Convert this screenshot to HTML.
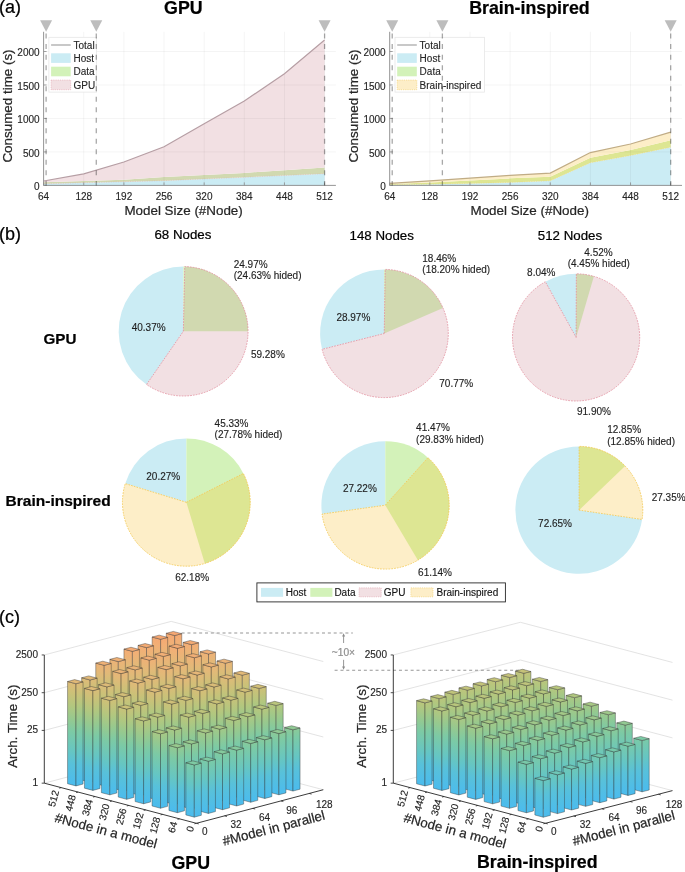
<!DOCTYPE html>
<html><head><meta charset="utf-8"><style>
html,body{margin:0;padding:0;background:#fff;}
svg{display:block;font-family:"Liberation Sans", sans-serif;will-change:transform;opacity:0.999;}
text{stroke:currentColor;stroke-width:0.22px;}
text[font-size="10"]{stroke-width:0.14px;}
</style></head><body>
<svg width="685" height="872" viewBox="0 0 685 872">
<defs><linearGradient id="gL0" gradientUnits="userSpaceOnUse" x1="0" y1="0" x2="31.631" y2="-119.857"><stop offset="0.00" stop-color="#4cbcec"/><stop offset="0.15" stop-color="#58c1da"/><stop offset="0.25" stop-color="#66c6c2"/><stop offset="0.40" stop-color="#7ccaa5"/><stop offset="0.50" stop-color="#96c98f"/><stop offset="0.60" stop-color="#b2c77f"/><stop offset="0.70" stop-color="#cbc178"/><stop offset="0.80" stop-color="#e2b978"/><stop offset="0.90" stop-color="#f2af76"/><stop offset="1.00" stop-color="#f8a370"/></linearGradient><linearGradient id="gR0" gradientUnits="userSpaceOnUse" x1="0" y1="0" x2="-31.697" y2="-119.819"><stop offset="0.00" stop-color="#4cbcec"/><stop offset="0.15" stop-color="#58c1da"/><stop offset="0.25" stop-color="#66c6c2"/><stop offset="0.40" stop-color="#7ccaa5"/><stop offset="0.50" stop-color="#96c98f"/><stop offset="0.60" stop-color="#b2c77f"/><stop offset="0.70" stop-color="#cbc178"/><stop offset="0.80" stop-color="#e2b978"/><stop offset="0.90" stop-color="#f2af76"/><stop offset="1.00" stop-color="#f8a370"/></linearGradient><linearGradient id="gL1" gradientUnits="userSpaceOnUse" x1="0" y1="0" x2="31.631" y2="-119.857"><stop offset="0.00" stop-color="#4cbcec"/><stop offset="0.15" stop-color="#58c1da"/><stop offset="0.25" stop-color="#66c6c2"/><stop offset="0.40" stop-color="#7ccaa5"/><stop offset="0.50" stop-color="#96c98f"/><stop offset="0.60" stop-color="#b2c77f"/><stop offset="0.70" stop-color="#cbc178"/><stop offset="0.80" stop-color="#e2b978"/><stop offset="0.90" stop-color="#f2af76"/><stop offset="1.00" stop-color="#f8a370"/></linearGradient><linearGradient id="gR1" gradientUnits="userSpaceOnUse" x1="0" y1="0" x2="-30.916" y2="-120.256"><stop offset="0.00" stop-color="#4cbcec"/><stop offset="0.15" stop-color="#58c1da"/><stop offset="0.25" stop-color="#66c6c2"/><stop offset="0.40" stop-color="#7ccaa5"/><stop offset="0.50" stop-color="#96c98f"/><stop offset="0.60" stop-color="#b2c77f"/><stop offset="0.70" stop-color="#cbc178"/><stop offset="0.80" stop-color="#e2b978"/><stop offset="0.90" stop-color="#f2af76"/><stop offset="1.00" stop-color="#f8a370"/></linearGradient></defs>
<rect width="685" height="872" fill="#fff"/>
<text x="-1.0" y="13.3" font-size="18" fill="#000" color="#000">(a)</text>
<path d="M43.60,183.86 L83.74,182.72 L123.88,181.72 L164.02,180.65 L204.16,178.91 L244.30,177.30 L284.44,175.49 L324.58,173.68 L324.58,185.40 L284.44,185.40 L244.30,185.40 L204.16,185.40 L164.02,185.40 L123.88,185.40 L83.74,185.40 L43.60,185.40Z" fill="#cbecf4" stroke="none"/>
<path d="M43.60,182.32 L83.74,181.12 L123.88,179.71 L164.02,177.03 L204.16,175.02 L244.30,172.88 L284.44,170.14 L324.58,167.59 L324.58,173.68 L284.44,175.49 L244.30,177.30 L204.16,178.91 L164.02,180.65 L123.88,181.72 L83.74,182.72 L43.60,183.86Z" fill="#d1d9b0" stroke="none"/>
<path d="M43.60,180.98 L83.74,173.88 L123.88,161.97 L164.02,146.70 L204.16,123.81 L244.30,101.04 L284.44,73.79 L324.58,40.05 L324.58,167.59 L284.44,170.14 L244.30,172.88 L204.16,175.02 L164.02,177.03 L123.88,179.71 L83.74,181.12 L43.60,182.32Z" fill="#f2e0e3" stroke="none"/>
<g stroke="#000" stroke-opacity="0.055" stroke-width="0.8">
<line x1="43.60" y1="31.80" x2="43.60" y2="185.40"/>
<line x1="83.74" y1="31.80" x2="83.74" y2="185.40"/>
<line x1="123.88" y1="31.80" x2="123.88" y2="185.40"/>
<line x1="164.02" y1="31.80" x2="164.02" y2="185.40"/>
<line x1="204.16" y1="31.80" x2="204.16" y2="185.40"/>
<line x1="244.30" y1="31.80" x2="244.30" y2="185.40"/>
<line x1="284.44" y1="31.80" x2="284.44" y2="185.40"/>
<line x1="324.58" y1="31.80" x2="324.58" y2="185.40"/>
<line x1="43.60" y1="151.93" x2="335.90" y2="151.93"/>
<line x1="43.60" y1="118.45" x2="335.90" y2="118.45"/>
<line x1="43.60" y1="84.97" x2="335.90" y2="84.97"/>
<line x1="43.60" y1="51.50" x2="335.90" y2="51.50"/>
</g>
<path d="M43.60,183.86 L83.74,182.72 L123.88,181.72 L164.02,180.65 L204.16,178.91 L244.30,177.30 L284.44,175.49 L324.58,173.68" fill="none" stroke="#e3a3ae" stroke-width="0.5" stroke-dasharray="1.2,1.2" opacity="0.8"/>
<path d="M43.60,180.98 L83.74,173.88 L123.88,161.97 L164.02,146.70 L204.16,123.81 L244.30,101.04 L284.44,73.79 L324.58,40.05" fill="none" stroke="#b69ea4" stroke-width="1.2"/>
<path d="M40.11,20.3 L52.11,20.3 L46.11,31.8 Z" fill="#bdbdbd"/>
<path d="M90.28,20.3 L102.28,20.3 L96.28,31.8 Z" fill="#bdbdbd"/>
<path d="M318.58,20.3 L330.58,20.3 L324.58,31.8 Z" fill="#bdbdbd"/>
<line x1="43.60" y1="31.80" x2="43.60" y2="185.40" stroke="#8a8a8a" stroke-width="0.9"/>
<line x1="43.60" y1="185.40" x2="335.90" y2="185.40" stroke="#8a8a8a" stroke-width="0.9"/>
<line x1="43.60" y1="185.40" x2="43.60" y2="182.40" stroke="#8a8a8a" stroke-width="0.8"/>
<text x="43.60" y="200.20" font-size="10" text-anchor="middle" font-weight="normal" fill="#262626" color="#262626" >64</text>
<line x1="83.74" y1="185.40" x2="83.74" y2="182.40" stroke="#8a8a8a" stroke-width="0.8"/>
<text x="83.74" y="200.20" font-size="10" text-anchor="middle" font-weight="normal" fill="#262626" color="#262626" >128</text>
<line x1="123.88" y1="185.40" x2="123.88" y2="182.40" stroke="#8a8a8a" stroke-width="0.8"/>
<text x="123.88" y="200.20" font-size="10" text-anchor="middle" font-weight="normal" fill="#262626" color="#262626" >192</text>
<line x1="164.02" y1="185.40" x2="164.02" y2="182.40" stroke="#8a8a8a" stroke-width="0.8"/>
<text x="164.02" y="200.20" font-size="10" text-anchor="middle" font-weight="normal" fill="#262626" color="#262626" >256</text>
<line x1="204.16" y1="185.40" x2="204.16" y2="182.40" stroke="#8a8a8a" stroke-width="0.8"/>
<text x="204.16" y="200.20" font-size="10" text-anchor="middle" font-weight="normal" fill="#262626" color="#262626" >320</text>
<line x1="244.30" y1="185.40" x2="244.30" y2="182.40" stroke="#8a8a8a" stroke-width="0.8"/>
<text x="244.30" y="200.20" font-size="10" text-anchor="middle" font-weight="normal" fill="#262626" color="#262626" >384</text>
<line x1="284.44" y1="185.40" x2="284.44" y2="182.40" stroke="#8a8a8a" stroke-width="0.8"/>
<text x="284.44" y="200.20" font-size="10" text-anchor="middle" font-weight="normal" fill="#262626" color="#262626" >448</text>
<line x1="324.58" y1="185.40" x2="324.58" y2="182.40" stroke="#8a8a8a" stroke-width="0.8"/>
<text x="324.58" y="200.20" font-size="10" text-anchor="middle" font-weight="normal" fill="#262626" color="#262626" >512</text>
<line x1="43.60" y1="185.40" x2="46.60" y2="185.40" stroke="#8a8a8a" stroke-width="0.8"/>
<text x="39.60" y="190.00" font-size="10" text-anchor="end" font-weight="normal" fill="#262626" color="#262626" >0</text>
<line x1="43.60" y1="151.93" x2="46.60" y2="151.93" stroke="#8a8a8a" stroke-width="0.8"/>
<text x="39.60" y="156.53" font-size="10" text-anchor="end" font-weight="normal" fill="#262626" color="#262626" >500</text>
<line x1="43.60" y1="118.45" x2="46.60" y2="118.45" stroke="#8a8a8a" stroke-width="0.8"/>
<text x="39.60" y="123.05" font-size="10" text-anchor="end" font-weight="normal" fill="#262626" color="#262626" >1000</text>
<line x1="43.60" y1="84.97" x2="46.60" y2="84.97" stroke="#8a8a8a" stroke-width="0.8"/>
<text x="39.60" y="89.57" font-size="10" text-anchor="end" font-weight="normal" fill="#262626" color="#262626" >1500</text>
<line x1="43.60" y1="51.50" x2="46.60" y2="51.50" stroke="#8a8a8a" stroke-width="0.8"/>
<text x="39.60" y="56.10" font-size="10" text-anchor="end" font-weight="normal" fill="#262626" color="#262626" >2000</text>
<text x="183.60" y="214.80" font-size="13.4" text-anchor="middle" font-weight="normal" fill="#262626" color="#262626" >Model Size (#Node)</text>
<text transform="translate(11.80,106.00) rotate(-90)" font-size="13.4" text-anchor="middle" fill="#262626" color="#262626">Consumed time (s)</text>
<text x="183.35" y="14.40" font-size="17.8" text-anchor="middle" font-weight="bold" fill="#000" color="#000" >GPU</text>
<rect x="48.90" y="37.30" width="47.70" height="54.8" fill="#fff" stroke="#e6e6e6" stroke-width="0.8"/>
<line x1="51.10" y1="45" x2="70.70" y2="45" stroke="#aaaaaa" stroke-width="1.3"/>
<text x="73.50" y="48.90" font-size="10" text-anchor="start" font-weight="normal" fill="#262626" color="#262626" >Total</text>
<rect x="51.10" y="53.30" width="19.6" height="9.6" fill="#cbecf4"/>
<text x="73.50" y="61.90" font-size="10" text-anchor="start" font-weight="normal" fill="#262626" color="#262626" >Host</text>
<rect x="51.10" y="66.70" width="19.6" height="9.6" fill="#d3f2b9"/>
<text x="73.50" y="75.30" font-size="10" text-anchor="start" font-weight="normal" fill="#262626" color="#262626" >Data</text>
<rect x="51.10" y="80.10" width="19.6" height="9.6" fill="#f2e0e3" stroke="#e3a3ae" stroke-width="0.6" stroke-dasharray="1.2,1"/>
<text x="73.50" y="88.70" font-size="10" text-anchor="start" font-weight="normal" fill="#262626" color="#262626" >GPU</text>
<line x1="46.11" y1="31.80" x2="46.11" y2="185.40" stroke="#000" stroke-opacity="0.34" stroke-width="1.3" stroke-dasharray="5.0,5.52" stroke-dashoffset="-1.8"/>
<line x1="96.28" y1="31.80" x2="96.28" y2="185.40" stroke="#000" stroke-opacity="0.34" stroke-width="1.3" stroke-dasharray="5.0,5.52" stroke-dashoffset="-1.8"/>
<line x1="324.58" y1="31.80" x2="324.58" y2="185.40" stroke="#000" stroke-opacity="0.34" stroke-width="1.3" stroke-dasharray="5.0,5.52" stroke-dashoffset="-1.8"/>
<path d="M389.70,184.86 L429.84,184.19 L469.98,183.39 L510.12,182.39 L550.26,180.78 L590.40,162.77 L630.54,155.47 L670.68,147.24 L670.68,185.40 L630.54,185.40 L590.40,185.40 L550.26,185.40 L510.12,185.40 L469.98,185.40 L429.84,185.40 L389.70,185.40Z" fill="#cbecf4" stroke="none"/>
<path d="M389.70,184.06 L429.84,182.39 L469.98,180.38 L510.12,178.37 L550.26,176.70 L590.40,157.68 L630.54,149.92 L670.68,140.21 L670.68,147.24 L630.54,155.47 L590.40,162.77 L550.26,180.78 L510.12,182.39 L469.98,183.39 L429.84,184.19 L389.70,184.86Z" fill="#dde693" stroke="none"/>
<path d="M389.70,183.39 L429.84,180.85 L469.98,178.17 L510.12,175.36 L550.26,173.08 L590.40,152.59 L630.54,144.02 L670.68,132.17 L670.68,140.21 L630.54,149.92 L590.40,157.68 L550.26,176.70 L510.12,178.37 L469.98,180.38 L429.84,182.39 L389.70,184.06Z" fill="#fdeec8" stroke="none"/>
<g stroke="#000" stroke-opacity="0.055" stroke-width="0.8">
<line x1="389.70" y1="31.80" x2="389.70" y2="185.40"/>
<line x1="429.84" y1="31.80" x2="429.84" y2="185.40"/>
<line x1="469.98" y1="31.80" x2="469.98" y2="185.40"/>
<line x1="510.12" y1="31.80" x2="510.12" y2="185.40"/>
<line x1="550.26" y1="31.80" x2="550.26" y2="185.40"/>
<line x1="590.40" y1="31.80" x2="590.40" y2="185.40"/>
<line x1="630.54" y1="31.80" x2="630.54" y2="185.40"/>
<line x1="670.68" y1="31.80" x2="670.68" y2="185.40"/>
<line x1="389.70" y1="151.93" x2="682.00" y2="151.93"/>
<line x1="389.70" y1="118.45" x2="682.00" y2="118.45"/>
<line x1="389.70" y1="84.97" x2="682.00" y2="84.97"/>
<line x1="389.70" y1="51.50" x2="682.00" y2="51.50"/>
</g>
<path d="M389.70,184.86 L429.84,184.19 L469.98,183.39 L510.12,182.39 L550.26,180.78 L590.40,162.77 L630.54,155.47 L670.68,147.24" fill="none" stroke="#f3cf6a" stroke-width="0.5" stroke-dasharray="1.2,1.2" opacity="0.8"/>
<path d="M389.70,183.39 L429.84,180.85 L469.98,178.17 L510.12,175.36 L550.26,173.08 L590.40,152.59 L630.54,144.02 L670.68,132.17" fill="none" stroke="#c0ac85" stroke-width="1.2"/>
<path d="M386.21,20.3 L398.21,20.3 L392.21,31.8 Z" fill="#bdbdbd"/>
<path d="M436.38,20.3 L448.38,20.3 L442.38,31.8 Z" fill="#bdbdbd"/>
<path d="M664.68,20.3 L676.68,20.3 L670.68,31.8 Z" fill="#bdbdbd"/>
<line x1="389.70" y1="31.80" x2="389.70" y2="185.40" stroke="#8a8a8a" stroke-width="0.9"/>
<line x1="389.70" y1="185.40" x2="682.00" y2="185.40" stroke="#8a8a8a" stroke-width="0.9"/>
<line x1="389.70" y1="185.40" x2="389.70" y2="182.40" stroke="#8a8a8a" stroke-width="0.8"/>
<text x="389.70" y="200.20" font-size="10" text-anchor="middle" font-weight="normal" fill="#262626" color="#262626" >64</text>
<line x1="429.84" y1="185.40" x2="429.84" y2="182.40" stroke="#8a8a8a" stroke-width="0.8"/>
<text x="429.84" y="200.20" font-size="10" text-anchor="middle" font-weight="normal" fill="#262626" color="#262626" >128</text>
<line x1="469.98" y1="185.40" x2="469.98" y2="182.40" stroke="#8a8a8a" stroke-width="0.8"/>
<text x="469.98" y="200.20" font-size="10" text-anchor="middle" font-weight="normal" fill="#262626" color="#262626" >192</text>
<line x1="510.12" y1="185.40" x2="510.12" y2="182.40" stroke="#8a8a8a" stroke-width="0.8"/>
<text x="510.12" y="200.20" font-size="10" text-anchor="middle" font-weight="normal" fill="#262626" color="#262626" >256</text>
<line x1="550.26" y1="185.40" x2="550.26" y2="182.40" stroke="#8a8a8a" stroke-width="0.8"/>
<text x="550.26" y="200.20" font-size="10" text-anchor="middle" font-weight="normal" fill="#262626" color="#262626" >320</text>
<line x1="590.40" y1="185.40" x2="590.40" y2="182.40" stroke="#8a8a8a" stroke-width="0.8"/>
<text x="590.40" y="200.20" font-size="10" text-anchor="middle" font-weight="normal" fill="#262626" color="#262626" >384</text>
<line x1="630.54" y1="185.40" x2="630.54" y2="182.40" stroke="#8a8a8a" stroke-width="0.8"/>
<text x="630.54" y="200.20" font-size="10" text-anchor="middle" font-weight="normal" fill="#262626" color="#262626" >448</text>
<line x1="670.68" y1="185.40" x2="670.68" y2="182.40" stroke="#8a8a8a" stroke-width="0.8"/>
<text x="670.68" y="200.20" font-size="10" text-anchor="middle" font-weight="normal" fill="#262626" color="#262626" >512</text>
<line x1="389.70" y1="185.40" x2="392.70" y2="185.40" stroke="#8a8a8a" stroke-width="0.8"/>
<text x="385.70" y="190.00" font-size="10" text-anchor="end" font-weight="normal" fill="#262626" color="#262626" >0</text>
<line x1="389.70" y1="151.93" x2="392.70" y2="151.93" stroke="#8a8a8a" stroke-width="0.8"/>
<text x="385.70" y="156.53" font-size="10" text-anchor="end" font-weight="normal" fill="#262626" color="#262626" >500</text>
<line x1="389.70" y1="118.45" x2="392.70" y2="118.45" stroke="#8a8a8a" stroke-width="0.8"/>
<text x="385.70" y="123.05" font-size="10" text-anchor="end" font-weight="normal" fill="#262626" color="#262626" >1000</text>
<line x1="389.70" y1="84.97" x2="392.70" y2="84.97" stroke="#8a8a8a" stroke-width="0.8"/>
<text x="385.70" y="89.57" font-size="10" text-anchor="end" font-weight="normal" fill="#262626" color="#262626" >1500</text>
<line x1="389.70" y1="51.50" x2="392.70" y2="51.50" stroke="#8a8a8a" stroke-width="0.8"/>
<text x="385.70" y="56.10" font-size="10" text-anchor="end" font-weight="normal" fill="#262626" color="#262626" >2000</text>
<text x="529.70" y="214.80" font-size="13.4" text-anchor="middle" font-weight="normal" fill="#262626" color="#262626" >Model Size (#Node)</text>
<text transform="translate(357.90,106.00) rotate(-90)" font-size="13.4" text-anchor="middle" fill="#262626" color="#262626">Consumed time (s)</text>
<text x="529.45" y="14.40" font-size="17.8" text-anchor="middle" font-weight="bold" fill="#000" color="#000" >Brain-inspired</text>
<rect x="395.00" y="37.30" width="89.40" height="54.8" fill="#fff" stroke="#e6e6e6" stroke-width="0.8"/>
<line x1="397.20" y1="45" x2="416.80" y2="45" stroke="#aaaaaa" stroke-width="1.3"/>
<text x="419.60" y="48.90" font-size="10" text-anchor="start" font-weight="normal" fill="#262626" color="#262626" >Total</text>
<rect x="397.20" y="53.30" width="19.6" height="9.6" fill="#cbecf4"/>
<text x="419.60" y="61.90" font-size="10" text-anchor="start" font-weight="normal" fill="#262626" color="#262626" >Host</text>
<rect x="397.20" y="66.70" width="19.6" height="9.6" fill="#d3f2b9"/>
<text x="419.60" y="75.30" font-size="10" text-anchor="start" font-weight="normal" fill="#262626" color="#262626" >Data</text>
<rect x="397.20" y="80.10" width="19.6" height="9.6" fill="#fdeec8" stroke="#f3cf6a" stroke-width="0.6" stroke-dasharray="1.2,1"/>
<text x="419.60" y="88.70" font-size="10" text-anchor="start" font-weight="normal" fill="#262626" color="#262626" >Brain-inspired</text>
<line x1="392.21" y1="31.80" x2="392.21" y2="185.40" stroke="#000" stroke-opacity="0.34" stroke-width="1.3" stroke-dasharray="5.0,5.52" stroke-dashoffset="-1.8"/>
<line x1="442.38" y1="31.80" x2="442.38" y2="185.40" stroke="#000" stroke-opacity="0.34" stroke-width="1.3" stroke-dasharray="5.0,5.52" stroke-dashoffset="-1.8"/>
<line x1="670.68" y1="31.80" x2="670.68" y2="185.40" stroke="#000" stroke-opacity="0.34" stroke-width="1.3" stroke-dasharray="5.0,5.52" stroke-dashoffset="-1.8"/>
<text x="-1.0" y="240.3" font-size="18" fill="#000" color="#000">(b)</text>
<path d="M183.35,331.30 L146.55,384.51 A64.7,64.7 0 0 1 183.35,266.60 Z" fill="#cbecf4"/>
<path d="M183.35,331.30 L184.77,266.62 A64.7,64.7 0 1 1 146.55,384.51 Z" fill="#f2e0e3"/>
<path d="M183.35,331.30 L183.35,266.60 A64.7,64.7 0 0 1 184.77,266.62 Z" fill="#d3f2b9"/>
<path d="M183.35,331.30 L184.77,266.62 A64.7,64.7 0 0 1 248.05,331.18 Z" fill="#d1d9b0"/>
<path d="M183.35,331.30 L184.77,266.62 A64.7,64.7 0 1 1 146.55,384.51 Z" fill="none" stroke="#e08898" stroke-width="0.75" stroke-dasharray="1.7,1.1"/>
<path d="M384.20,333.50 L322.08,349.32 A64.1,64.1 0 0 1 384.20,269.40 Z" fill="#cbecf4"/>
<path d="M384.20,333.50 L385.25,269.41 A64.1,64.1 0 1 1 322.08,349.32 Z" fill="#f2e0e3"/>
<path d="M384.20,333.50 L384.20,269.40 A64.1,64.1 0 0 1 385.25,269.41 Z" fill="#d3f2b9"/>
<path d="M384.20,333.50 L385.25,269.41 A64.1,64.1 0 0 1 442.96,307.90 Z" fill="#d1d9b0"/>
<path d="M384.20,333.50 L385.25,269.41 A64.1,64.1 0 1 1 322.08,349.32 Z" fill="none" stroke="#e08898" stroke-width="0.75" stroke-dasharray="1.7,1.1"/>
<path d="M576.10,337.40 L545.32,281.74 A63.6,63.6 0 0 1 576.10,273.80 Z" fill="#cbecf4"/>
<path d="M576.10,337.40 L576.34,273.80 A63.6,63.6 0 1 1 545.32,281.74 Z" fill="#f2e0e3"/>
<path d="M576.10,337.40 L576.10,273.80 A63.6,63.6 0 0 1 576.34,273.80 Z" fill="#d3f2b9"/>
<path d="M576.10,337.40 L576.34,273.80 A63.6,63.6 0 0 1 593.92,276.35 Z" fill="#d1d9b0"/>
<path d="M576.10,337.40 L576.34,273.80 A63.6,63.6 0 1 1 545.32,281.74 Z" fill="none" stroke="#e08898" stroke-width="0.75" stroke-dasharray="1.7,1.1"/>
<path d="M186.35,502.30 L125.25,483.59 A63.9,63.9 0 0 1 186.35,438.40 Z" fill="#cbecf4"/>
<path d="M186.35,502.30 L243.38,473.47 A63.9,63.9 0 1 1 125.25,483.59 Z" fill="#fdeec8"/>
<path d="M186.35,502.30 L186.35,438.40 A63.9,63.9 0 0 1 243.38,473.47 Z" fill="#d3f2b9"/>
<path d="M186.35,502.30 L243.38,473.47 A63.9,63.9 0 0 1 204.83,563.47 Z" fill="#dde693"/>
<path d="M186.35,502.30 L243.38,473.47 A63.9,63.9 0 1 1 125.25,483.59 Z" fill="none" stroke="#f2c445" stroke-width="0.75" stroke-dasharray="1.7,1.1"/>
<path d="M385.30,505.20 L322.02,514.08 A63.9,63.9 0 0 1 385.30,441.30 Z" fill="#cbecf4"/>
<path d="M385.30,505.20 L427.98,457.64 A63.9,63.9 0 1 1 322.02,514.08 Z" fill="#fdeec8"/>
<path d="M385.30,505.20 L385.30,441.30 A63.9,63.9 0 0 1 427.98,457.64 Z" fill="#d3f2b9"/>
<path d="M385.30,505.20 L427.98,457.64 A63.9,63.9 0 0 1 417.93,560.14 Z" fill="#dde693"/>
<path d="M385.30,505.20 L427.98,457.64 A63.9,63.9 0 1 1 322.02,514.08 Z" fill="none" stroke="#f2c445" stroke-width="0.75" stroke-dasharray="1.7,1.1"/>
<path d="M579.10,510.10 L642.11,519.47 A63.7,63.7 0 1 1 579.10,446.40 Z" fill="#cbecf4"/>
<path d="M579.10,510.10 L579.10,446.40 A63.7,63.7 0 0 1 642.11,519.47 Z" fill="#fdeec8"/>
<path d="M579.10,510.10 L579.10,446.40 A63.7,63.7 0 0 1 625.12,466.06 Z" fill="#dde693"/>
<path d="M579.10,510.10 L579.10,446.40 A63.7,63.7 0 0 1 642.11,519.47 Z" fill="none" stroke="#f2c445" stroke-width="0.75" stroke-dasharray="1.7,1.1"/>
<text x="182.90" y="239.30" font-size="13.3" text-anchor="middle" font-weight="normal" fill="#000" color="#000" >68 Nodes</text>
<text x="381.70" y="239.50" font-size="13.3" text-anchor="middle" font-weight="normal" fill="#000" color="#000" >148 Nodes</text>
<text x="570.00" y="239.50" font-size="13.3" text-anchor="middle" font-weight="normal" fill="#000" color="#000" >512 Nodes</text>
<text x="59.90" y="343.90" font-size="15.2" text-anchor="middle" font-weight="bold" fill="#000" color="#000" >GPU</text>
<text x="58.15" y="505.90" font-size="15.5" text-anchor="middle" font-weight="bold" fill="#000" color="#000" >Brain-inspired</text>
<text x="233.70" y="267.60" font-size="10" text-anchor="start" font-weight="normal" fill="#1f1f1f" color="#1f1f1f" >24.97%</text>
<text x="233.70" y="279.30" font-size="10" text-anchor="start" font-weight="normal" fill="#1f1f1f" color="#1f1f1f" >(24.63% hided)</text>
<text x="131.70" y="330.60" font-size="10" text-anchor="start" font-weight="normal" fill="#1f1f1f" color="#1f1f1f" >40.37%</text>
<text x="250.90" y="357.50" font-size="10" text-anchor="start" font-weight="normal" fill="#1f1f1f" color="#1f1f1f" >59.28%</text>
<text x="422.30" y="261.50" font-size="10" text-anchor="start" font-weight="normal" fill="#1f1f1f" color="#1f1f1f" >18.46%</text>
<text x="422.30" y="272.60" font-size="10" text-anchor="start" font-weight="normal" fill="#1f1f1f" color="#1f1f1f" >(18.20% hided)</text>
<text x="336.40" y="321.10" font-size="10" text-anchor="start" font-weight="normal" fill="#1f1f1f" color="#1f1f1f" >28.97%</text>
<text x="439.30" y="386.90" font-size="10" text-anchor="start" font-weight="normal" fill="#1f1f1f" color="#1f1f1f" >70.77%</text>
<text x="598.50" y="255.60" font-size="10" text-anchor="middle" font-weight="normal" fill="#1f1f1f" color="#1f1f1f" >4.52%</text>
<text x="598.80" y="267.40" font-size="10" text-anchor="middle" font-weight="normal" fill="#1f1f1f" color="#1f1f1f" >(4.45% hided)</text>
<text x="527.10" y="275.70" font-size="10" text-anchor="start" font-weight="normal" fill="#1f1f1f" color="#1f1f1f" >8.04%</text>
<text x="577.00" y="415.10" font-size="10" text-anchor="start" font-weight="normal" fill="#1f1f1f" color="#1f1f1f" >91.90%</text>
<text x="214.60" y="426.50" font-size="10" text-anchor="start" font-weight="normal" fill="#1f1f1f" color="#1f1f1f" >45.33%</text>
<text x="214.60" y="438.30" font-size="10" text-anchor="start" font-weight="normal" fill="#1f1f1f" color="#1f1f1f" >(27.78% hided)</text>
<text x="146.30" y="480.30" font-size="10" text-anchor="start" font-weight="normal" fill="#1f1f1f" color="#1f1f1f" >20.27%</text>
<text x="175.20" y="581.40" font-size="10" text-anchor="start" font-weight="normal" fill="#1f1f1f" color="#1f1f1f" >62.18%</text>
<text x="416.10" y="431.10" font-size="10" text-anchor="start" font-weight="normal" fill="#1f1f1f" color="#1f1f1f" >41.47%</text>
<text x="416.10" y="442.50" font-size="10" text-anchor="start" font-weight="normal" fill="#1f1f1f" color="#1f1f1f" >(29.83% hided)</text>
<text x="342.90" y="491.90" font-size="10" text-anchor="start" font-weight="normal" fill="#1f1f1f" color="#1f1f1f" >27.22%</text>
<text x="418.10" y="576.20" font-size="10" text-anchor="start" font-weight="normal" fill="#1f1f1f" color="#1f1f1f" >61.14%</text>
<text x="607.20" y="433.30" font-size="10" text-anchor="start" font-weight="normal" fill="#1f1f1f" color="#1f1f1f" >12.85%</text>
<text x="607.20" y="444.60" font-size="10" text-anchor="start" font-weight="normal" fill="#1f1f1f" color="#1f1f1f" >(12.85% hided)</text>
<text x="651.70" y="500.50" font-size="10" text-anchor="start" font-weight="normal" fill="#1f1f1f" color="#1f1f1f" >27.35%</text>
<text x="538.10" y="527.00" font-size="10" text-anchor="start" font-weight="normal" fill="#1f1f1f" color="#1f1f1f" >72.65%</text>
<rect x="256.9" y="582.9" width="248.5" height="19" fill="#fff" stroke="#262626" stroke-width="0.9"/>
<rect x="261.0" y="587.9" width="22.1" height="8.9" fill="#cbecf4"/>
<text x="285.70" y="595.90" font-size="10" text-anchor="start" font-weight="normal" fill="#141414" color="#141414" >Host</text>
<rect x="310.3" y="587.9" width="22.1" height="8.9" fill="#d3f2b9"/>
<text x="334.40" y="595.90" font-size="10" text-anchor="start" font-weight="normal" fill="#141414" color="#141414" >Data</text>
<rect x="359.1" y="587.9" width="22.1" height="8.9" fill="#f2e0e3" stroke="#e3a3ae" stroke-width="0.6" stroke-dasharray="1.2,1"/>
<text x="383.80" y="595.90" font-size="10" text-anchor="start" font-weight="normal" fill="#141414" color="#141414" >GPU</text>
<rect x="410.9" y="587.9" width="22.1" height="8.9" fill="#fdeec8" stroke="#f3cf6a" stroke-width="0.6" stroke-dasharray="1.2,1"/>
<text x="436.50" y="595.90" font-size="10" text-anchor="start" font-weight="normal" fill="#141414" color="#141414" >Brain-inspired</text>
<text x="-1.0" y="622.6" font-size="18" fill="#000" color="#000">(c)</text>
<path d="M44.30,783.16 L171.20,749.59 L323.30,789.73" fill="none" stroke="#dcdcdc" stroke-width="0.8"/>
<path d="M44.30,730.42 L171.20,696.85 L323.30,736.99" fill="none" stroke="#dcdcdc" stroke-width="0.8"/>
<path d="M44.30,692.69 L171.20,659.12 L323.30,699.26" fill="none" stroke="#dcdcdc" stroke-width="0.8"/>
<path d="M44.30,654.96 L171.20,621.39 L323.30,661.53" fill="none" stroke="#dcdcdc" stroke-width="0.8"/>
<path d="M393.30,783.16 L520.38,750.49 L672.48,790.63" fill="none" stroke="#dcdcdc" stroke-width="0.8"/>
<path d="M393.30,730.42 L520.38,697.75 L672.48,737.89" fill="none" stroke="#dcdcdc" stroke-width="0.8"/>
<path d="M393.30,692.69 L520.38,660.02 L672.48,700.16" fill="none" stroke="#dcdcdc" stroke-width="0.8"/>
<path d="M393.30,654.96 L520.38,622.29 L672.48,662.43" fill="none" stroke="#dcdcdc" stroke-width="0.8"/>
<line x1="181.6" y1="632.9" x2="352.8" y2="632.9" stroke="#969696" stroke-width="1.05" stroke-dasharray="3.0,2.85"/>
<line x1="334.6" y1="670.3" x2="526" y2="670.3" stroke="#969696" stroke-width="1.05" stroke-dasharray="3.0,2.85"/>
<g transform="translate(174.00,757.78)">
<path d="M0.70,2.05 L-7.75,-0.18 L-7.75,-124.49 L0.70,-122.26Z" fill="url(#gL0)" stroke="#333" stroke-width="0.5" stroke-opacity="0.8" stroke-linejoin="round"/>
<path d="M0.70,2.05 L7.75,0.18 L7.75,-124.13 L0.70,-122.26Z" fill="url(#gR0)" stroke="#333" stroke-width="0.5" stroke-opacity="0.8" stroke-linejoin="round"/>
<path d="M0.70,-122.26 L-7.75,-124.49 L-0.70,-126.36 L7.75,-124.13Z" fill="#f6a772" stroke="#333" stroke-width="0.5" stroke-opacity="0.8" stroke-linejoin="round"/>
</g>
<g transform="translate(190.90,762.24)">
<path d="M0.70,2.05 L-7.75,-0.18 L-7.75,-119.86 L0.70,-117.63Z" fill="url(#gL0)" stroke="#333" stroke-width="0.5" stroke-opacity="0.8" stroke-linejoin="round"/>
<path d="M0.70,2.05 L7.75,0.18 L7.75,-119.50 L0.70,-117.63Z" fill="url(#gR0)" stroke="#333" stroke-width="0.5" stroke-opacity="0.8" stroke-linejoin="round"/>
<path d="M0.70,-117.63 L-7.75,-119.86 L-0.70,-121.73 L7.75,-119.50Z" fill="#f4ab74" stroke="#333" stroke-width="0.5" stroke-opacity="0.8" stroke-linejoin="round"/>
</g>
<g transform="translate(159.90,761.51)">
<path d="M0.70,2.05 L-7.75,-0.18 L-7.75,-124.49 L0.70,-122.26Z" fill="url(#gL0)" stroke="#333" stroke-width="0.5" stroke-opacity="0.8" stroke-linejoin="round"/>
<path d="M0.70,2.05 L7.75,0.18 L7.75,-124.13 L0.70,-122.26Z" fill="url(#gR0)" stroke="#333" stroke-width="0.5" stroke-opacity="0.8" stroke-linejoin="round"/>
<path d="M0.70,-122.26 L-7.75,-124.49 L-0.70,-126.36 L7.75,-124.13Z" fill="#f6a772" stroke="#333" stroke-width="0.5" stroke-opacity="0.8" stroke-linejoin="round"/>
</g>
<g transform="translate(207.80,766.70)">
<path d="M0.70,2.05 L-7.75,-0.18 L-7.75,-114.94 L0.70,-112.71Z" fill="url(#gL0)" stroke="#333" stroke-width="0.5" stroke-opacity="0.8" stroke-linejoin="round"/>
<path d="M0.70,2.05 L7.75,0.18 L7.75,-114.57 L0.70,-112.71Z" fill="url(#gR0)" stroke="#333" stroke-width="0.5" stroke-opacity="0.8" stroke-linejoin="round"/>
<path d="M0.70,-112.71 L-7.75,-114.94 L-0.70,-116.80 L7.75,-114.57Z" fill="#f1af76" stroke="#333" stroke-width="0.5" stroke-opacity="0.8" stroke-linejoin="round"/>
</g>
<g transform="translate(176.80,765.97)">
<path d="M0.70,2.05 L-7.75,-0.18 L-7.75,-119.86 L0.70,-117.63Z" fill="url(#gL0)" stroke="#333" stroke-width="0.5" stroke-opacity="0.8" stroke-linejoin="round"/>
<path d="M0.70,2.05 L7.75,0.18 L7.75,-119.50 L0.70,-117.63Z" fill="url(#gR0)" stroke="#333" stroke-width="0.5" stroke-opacity="0.8" stroke-linejoin="round"/>
<path d="M0.70,-117.63 L-7.75,-119.86 L-0.70,-121.73 L7.75,-119.50Z" fill="#f4ab74" stroke="#333" stroke-width="0.5" stroke-opacity="0.8" stroke-linejoin="round"/>
</g>
<g transform="translate(145.80,765.24)">
<path d="M0.70,2.05 L-7.75,-0.18 L-7.75,-119.85 L0.70,-117.62Z" fill="url(#gL0)" stroke="#333" stroke-width="0.5" stroke-opacity="0.8" stroke-linejoin="round"/>
<path d="M0.70,2.05 L7.75,0.18 L7.75,-119.48 L0.70,-117.62Z" fill="url(#gR0)" stroke="#333" stroke-width="0.5" stroke-opacity="0.8" stroke-linejoin="round"/>
<path d="M0.70,-117.62 L-7.75,-119.85 L-0.70,-121.71 L7.75,-119.48Z" fill="#f4ab74" stroke="#333" stroke-width="0.5" stroke-opacity="0.8" stroke-linejoin="round"/>
</g>
<g transform="translate(224.70,771.16)">
<path d="M0.70,2.05 L-7.75,-0.18 L-7.75,-110.15 L0.70,-107.92Z" fill="url(#gL0)" stroke="#333" stroke-width="0.5" stroke-opacity="0.8" stroke-linejoin="round"/>
<path d="M0.70,2.05 L7.75,0.18 L7.75,-109.79 L0.70,-107.92Z" fill="url(#gR0)" stroke="#333" stroke-width="0.5" stroke-opacity="0.8" stroke-linejoin="round"/>
<path d="M0.70,-107.92 L-7.75,-110.15 L-0.70,-112.02 L7.75,-109.79Z" fill="#ebb377" stroke="#333" stroke-width="0.5" stroke-opacity="0.8" stroke-linejoin="round"/>
</g>
<g transform="translate(193.70,770.43)">
<path d="M0.70,2.05 L-7.75,-0.18 L-7.75,-114.94 L0.70,-112.71Z" fill="url(#gL0)" stroke="#333" stroke-width="0.5" stroke-opacity="0.8" stroke-linejoin="round"/>
<path d="M0.70,2.05 L7.75,0.18 L7.75,-114.57 L0.70,-112.71Z" fill="url(#gR0)" stroke="#333" stroke-width="0.5" stroke-opacity="0.8" stroke-linejoin="round"/>
<path d="M0.70,-112.71 L-7.75,-114.94 L-0.70,-116.80 L7.75,-114.57Z" fill="#f1af76" stroke="#333" stroke-width="0.5" stroke-opacity="0.8" stroke-linejoin="round"/>
</g>
<g transform="translate(162.70,769.70)">
<path d="M0.70,2.05 L-7.75,-0.18 L-7.75,-115.49 L0.70,-113.26Z" fill="url(#gL0)" stroke="#333" stroke-width="0.5" stroke-opacity="0.8" stroke-linejoin="round"/>
<path d="M0.70,2.05 L7.75,0.18 L7.75,-115.12 L0.70,-113.26Z" fill="url(#gR0)" stroke="#333" stroke-width="0.5" stroke-opacity="0.8" stroke-linejoin="round"/>
<path d="M0.70,-113.26 L-7.75,-115.49 L-0.70,-117.35 L7.75,-115.12Z" fill="#f2af76" stroke="#333" stroke-width="0.5" stroke-opacity="0.8" stroke-linejoin="round"/>
</g>
<g transform="translate(131.70,768.97)">
<path d="M0.70,2.05 L-7.75,-0.18 L-7.75,-119.85 L0.70,-117.62Z" fill="url(#gL0)" stroke="#333" stroke-width="0.5" stroke-opacity="0.8" stroke-linejoin="round"/>
<path d="M0.70,2.05 L7.75,0.18 L7.75,-119.48 L0.70,-117.62Z" fill="url(#gR0)" stroke="#333" stroke-width="0.5" stroke-opacity="0.8" stroke-linejoin="round"/>
<path d="M0.70,-117.62 L-7.75,-119.85 L-0.70,-121.71 L7.75,-119.48Z" fill="#f4ab74" stroke="#333" stroke-width="0.5" stroke-opacity="0.8" stroke-linejoin="round"/>
</g>
<g transform="translate(241.60,775.62)">
<path d="M0.70,2.05 L-7.75,-0.18 L-7.75,-102.65 L0.70,-100.42Z" fill="url(#gL0)" stroke="#333" stroke-width="0.5" stroke-opacity="0.8" stroke-linejoin="round"/>
<path d="M0.70,2.05 L7.75,0.18 L7.75,-102.28 L0.70,-100.42Z" fill="url(#gR0)" stroke="#333" stroke-width="0.5" stroke-opacity="0.8" stroke-linejoin="round"/>
<path d="M0.70,-100.42 L-7.75,-102.65 L-0.70,-104.51 L7.75,-102.28Z" fill="#e2b978" stroke="#333" stroke-width="0.5" stroke-opacity="0.8" stroke-linejoin="round"/>
</g>
<g transform="translate(210.60,774.89)">
<path d="M0.70,2.05 L-7.75,-0.18 L-7.75,-110.15 L0.70,-107.92Z" fill="url(#gL0)" stroke="#333" stroke-width="0.5" stroke-opacity="0.8" stroke-linejoin="round"/>
<path d="M0.70,2.05 L7.75,0.18 L7.75,-109.79 L0.70,-107.92Z" fill="url(#gR0)" stroke="#333" stroke-width="0.5" stroke-opacity="0.8" stroke-linejoin="round"/>
<path d="M0.70,-107.92 L-7.75,-110.15 L-0.70,-112.02 L7.75,-109.79Z" fill="#ebb377" stroke="#333" stroke-width="0.5" stroke-opacity="0.8" stroke-linejoin="round"/>
</g>
<g transform="translate(179.60,774.16)">
<path d="M0.70,2.05 L-7.75,-0.18 L-7.75,-110.51 L0.70,-108.28Z" fill="url(#gL0)" stroke="#333" stroke-width="0.5" stroke-opacity="0.8" stroke-linejoin="round"/>
<path d="M0.70,2.05 L7.75,0.18 L7.75,-110.14 L0.70,-108.28Z" fill="url(#gR0)" stroke="#333" stroke-width="0.5" stroke-opacity="0.8" stroke-linejoin="round"/>
<path d="M0.70,-108.28 L-7.75,-110.51 L-0.70,-112.37 L7.75,-110.14Z" fill="#ecb377" stroke="#333" stroke-width="0.5" stroke-opacity="0.8" stroke-linejoin="round"/>
</g>
<g transform="translate(148.60,773.43)">
<path d="M0.70,2.05 L-7.75,-0.18 L-7.75,-115.49 L0.70,-113.26Z" fill="url(#gL0)" stroke="#333" stroke-width="0.5" stroke-opacity="0.8" stroke-linejoin="round"/>
<path d="M0.70,2.05 L7.75,0.18 L7.75,-115.12 L0.70,-113.26Z" fill="url(#gR0)" stroke="#333" stroke-width="0.5" stroke-opacity="0.8" stroke-linejoin="round"/>
<path d="M0.70,-113.26 L-7.75,-115.49 L-0.70,-117.35 L7.75,-115.12Z" fill="#f2af76" stroke="#333" stroke-width="0.5" stroke-opacity="0.8" stroke-linejoin="round"/>
</g>
<g transform="translate(117.60,772.70)">
<path d="M0.70,2.05 L-7.75,-0.18 L-7.75,-113.35 L0.70,-111.12Z" fill="url(#gL0)" stroke="#333" stroke-width="0.5" stroke-opacity="0.8" stroke-linejoin="round"/>
<path d="M0.70,2.05 L7.75,0.18 L7.75,-112.98 L0.70,-111.12Z" fill="url(#gR0)" stroke="#333" stroke-width="0.5" stroke-opacity="0.8" stroke-linejoin="round"/>
<path d="M0.70,-111.12 L-7.75,-113.35 L-0.70,-115.21 L7.75,-112.98Z" fill="#efb176" stroke="#333" stroke-width="0.5" stroke-opacity="0.8" stroke-linejoin="round"/>
</g>
<g transform="translate(258.50,780.08)">
<path d="M0.70,2.05 L-7.75,-0.18 L-7.75,-93.87 L0.70,-91.64Z" fill="url(#gL0)" stroke="#333" stroke-width="0.5" stroke-opacity="0.8" stroke-linejoin="round"/>
<path d="M0.70,2.05 L7.75,0.18 L7.75,-93.50 L0.70,-91.64Z" fill="url(#gR0)" stroke="#333" stroke-width="0.5" stroke-opacity="0.8" stroke-linejoin="round"/>
<path d="M0.70,-91.64 L-7.75,-93.87 L-0.70,-95.73 L7.75,-93.50Z" fill="#d2bf78" stroke="#333" stroke-width="0.5" stroke-opacity="0.8" stroke-linejoin="round"/>
</g>
<g transform="translate(227.50,779.35)">
<path d="M0.70,2.05 L-7.75,-0.18 L-7.75,-102.65 L0.70,-100.42Z" fill="url(#gL0)" stroke="#333" stroke-width="0.5" stroke-opacity="0.8" stroke-linejoin="round"/>
<path d="M0.70,2.05 L7.75,0.18 L7.75,-102.28 L0.70,-100.42Z" fill="url(#gR0)" stroke="#333" stroke-width="0.5" stroke-opacity="0.8" stroke-linejoin="round"/>
<path d="M0.70,-100.42 L-7.75,-102.65 L-0.70,-104.51 L7.75,-102.28Z" fill="#e2b978" stroke="#333" stroke-width="0.5" stroke-opacity="0.8" stroke-linejoin="round"/>
</g>
<g transform="translate(196.50,778.62)">
<path d="M0.70,2.05 L-7.75,-0.18 L-7.75,-105.80 L0.70,-103.57Z" fill="url(#gL0)" stroke="#333" stroke-width="0.5" stroke-opacity="0.8" stroke-linejoin="round"/>
<path d="M0.70,2.05 L7.75,0.18 L7.75,-105.43 L0.70,-103.57Z" fill="url(#gR0)" stroke="#333" stroke-width="0.5" stroke-opacity="0.8" stroke-linejoin="round"/>
<path d="M0.70,-103.57 L-7.75,-105.80 L-0.70,-107.66 L7.75,-105.43Z" fill="#e6b778" stroke="#333" stroke-width="0.5" stroke-opacity="0.8" stroke-linejoin="round"/>
</g>
<g transform="translate(165.50,777.89)">
<path d="M0.70,2.05 L-7.75,-0.18 L-7.75,-110.51 L0.70,-108.28Z" fill="url(#gL0)" stroke="#333" stroke-width="0.5" stroke-opacity="0.8" stroke-linejoin="round"/>
<path d="M0.70,2.05 L7.75,0.18 L7.75,-110.14 L0.70,-108.28Z" fill="url(#gR0)" stroke="#333" stroke-width="0.5" stroke-opacity="0.8" stroke-linejoin="round"/>
<path d="M0.70,-108.28 L-7.75,-110.51 L-0.70,-112.37 L7.75,-110.14Z" fill="#ecb377" stroke="#333" stroke-width="0.5" stroke-opacity="0.8" stroke-linejoin="round"/>
</g>
<g transform="translate(134.50,777.16)">
<path d="M0.70,2.05 L-7.75,-0.18 L-7.75,-109.50 L0.70,-107.27Z" fill="url(#gL0)" stroke="#333" stroke-width="0.5" stroke-opacity="0.8" stroke-linejoin="round"/>
<path d="M0.70,2.05 L7.75,0.18 L7.75,-109.13 L0.70,-107.27Z" fill="url(#gR0)" stroke="#333" stroke-width="0.5" stroke-opacity="0.8" stroke-linejoin="round"/>
<path d="M0.70,-107.27 L-7.75,-109.50 L-0.70,-111.36 L7.75,-109.13Z" fill="#eab477" stroke="#333" stroke-width="0.5" stroke-opacity="0.8" stroke-linejoin="round"/>
</g>
<g transform="translate(103.50,776.43)">
<path d="M0.70,2.05 L-7.75,-0.18 L-7.75,-113.35 L0.70,-111.12Z" fill="url(#gL0)" stroke="#333" stroke-width="0.5" stroke-opacity="0.8" stroke-linejoin="round"/>
<path d="M0.70,2.05 L7.75,0.18 L7.75,-112.98 L0.70,-111.12Z" fill="url(#gR0)" stroke="#333" stroke-width="0.5" stroke-opacity="0.8" stroke-linejoin="round"/>
<path d="M0.70,-111.12 L-7.75,-113.35 L-0.70,-115.21 L7.75,-112.98Z" fill="#efb176" stroke="#333" stroke-width="0.5" stroke-opacity="0.8" stroke-linejoin="round"/>
</g>
<g transform="translate(275.40,784.54)">
<path d="M0.70,2.05 L-7.75,-0.18 L-7.75,-81.33 L0.70,-79.10Z" fill="url(#gL0)" stroke="#333" stroke-width="0.5" stroke-opacity="0.8" stroke-linejoin="round"/>
<path d="M0.70,2.05 L7.75,0.18 L7.75,-80.97 L0.70,-79.10Z" fill="url(#gR0)" stroke="#333" stroke-width="0.5" stroke-opacity="0.8" stroke-linejoin="round"/>
<path d="M0.70,-79.10 L-7.75,-81.33 L-0.70,-83.20 L7.75,-80.97Z" fill="#bac57d" stroke="#333" stroke-width="0.5" stroke-opacity="0.8" stroke-linejoin="round"/>
</g>
<g transform="translate(244.40,783.81)">
<path d="M0.70,2.05 L-7.75,-0.18 L-7.75,-93.87 L0.70,-91.64Z" fill="url(#gL0)" stroke="#333" stroke-width="0.5" stroke-opacity="0.8" stroke-linejoin="round"/>
<path d="M0.70,2.05 L7.75,0.18 L7.75,-93.50 L0.70,-91.64Z" fill="url(#gR0)" stroke="#333" stroke-width="0.5" stroke-opacity="0.8" stroke-linejoin="round"/>
<path d="M0.70,-91.64 L-7.75,-93.87 L-0.70,-95.73 L7.75,-93.50Z" fill="#d2bf78" stroke="#333" stroke-width="0.5" stroke-opacity="0.8" stroke-linejoin="round"/>
</g>
<g transform="translate(213.40,783.08)">
<path d="M0.70,2.05 L-7.75,-0.18 L-7.75,-98.31 L0.70,-96.08Z" fill="url(#gL0)" stroke="#333" stroke-width="0.5" stroke-opacity="0.8" stroke-linejoin="round"/>
<path d="M0.70,2.05 L7.75,0.18 L7.75,-97.94 L0.70,-96.08Z" fill="url(#gR0)" stroke="#333" stroke-width="0.5" stroke-opacity="0.8" stroke-linejoin="round"/>
<path d="M0.70,-96.08 L-7.75,-98.31 L-0.70,-100.17 L7.75,-97.94Z" fill="#dabc78" stroke="#333" stroke-width="0.5" stroke-opacity="0.8" stroke-linejoin="round"/>
</g>
<g transform="translate(182.40,782.35)">
<path d="M0.70,2.05 L-7.75,-0.18 L-7.75,-105.80 L0.70,-103.57Z" fill="url(#gL0)" stroke="#333" stroke-width="0.5" stroke-opacity="0.8" stroke-linejoin="round"/>
<path d="M0.70,2.05 L7.75,0.18 L7.75,-105.43 L0.70,-103.57Z" fill="url(#gR0)" stroke="#333" stroke-width="0.5" stroke-opacity="0.8" stroke-linejoin="round"/>
<path d="M0.70,-103.57 L-7.75,-105.80 L-0.70,-107.66 L7.75,-105.43Z" fill="#e6b778" stroke="#333" stroke-width="0.5" stroke-opacity="0.8" stroke-linejoin="round"/>
</g>
<g transform="translate(151.40,781.62)">
<path d="M0.70,2.05 L-7.75,-0.18 L-7.75,-104.41 L0.70,-102.18Z" fill="url(#gL0)" stroke="#333" stroke-width="0.5" stroke-opacity="0.8" stroke-linejoin="round"/>
<path d="M0.70,2.05 L7.75,0.18 L7.75,-104.05 L0.70,-102.18Z" fill="url(#gR0)" stroke="#333" stroke-width="0.5" stroke-opacity="0.8" stroke-linejoin="round"/>
<path d="M0.70,-102.18 L-7.75,-104.41 L-0.70,-106.28 L7.75,-104.05Z" fill="#e4b878" stroke="#333" stroke-width="0.5" stroke-opacity="0.8" stroke-linejoin="round"/>
</g>
<g transform="translate(120.40,780.89)">
<path d="M0.70,2.05 L-7.75,-0.18 L-7.75,-109.50 L0.70,-107.27Z" fill="url(#gL0)" stroke="#333" stroke-width="0.5" stroke-opacity="0.8" stroke-linejoin="round"/>
<path d="M0.70,2.05 L7.75,0.18 L7.75,-109.13 L0.70,-107.27Z" fill="url(#gR0)" stroke="#333" stroke-width="0.5" stroke-opacity="0.8" stroke-linejoin="round"/>
<path d="M0.70,-107.27 L-7.75,-109.50 L-0.70,-111.36 L7.75,-109.13Z" fill="#eab477" stroke="#333" stroke-width="0.5" stroke-opacity="0.8" stroke-linejoin="round"/>
</g>
<g transform="translate(89.40,780.16)">
<path d="M0.70,2.05 L-7.75,-0.18 L-7.75,-102.40 L0.70,-100.17Z" fill="url(#gL0)" stroke="#333" stroke-width="0.5" stroke-opacity="0.8" stroke-linejoin="round"/>
<path d="M0.70,2.05 L7.75,0.18 L7.75,-102.04 L0.70,-100.17Z" fill="url(#gR0)" stroke="#333" stroke-width="0.5" stroke-opacity="0.8" stroke-linejoin="round"/>
<path d="M0.70,-100.17 L-7.75,-102.40 L-0.70,-104.27 L7.75,-102.04Z" fill="#e1b978" stroke="#333" stroke-width="0.5" stroke-opacity="0.8" stroke-linejoin="round"/>
</g>
<g transform="translate(292.30,789.00)">
<path d="M0.70,2.05 L-7.75,-0.18 L-7.75,-61.42 L0.70,-59.19Z" fill="url(#gL0)" stroke="#333" stroke-width="0.5" stroke-opacity="0.8" stroke-linejoin="round"/>
<path d="M0.70,2.05 L7.75,0.18 L7.75,-61.06 L0.70,-59.19Z" fill="url(#gR0)" stroke="#333" stroke-width="0.5" stroke-opacity="0.8" stroke-linejoin="round"/>
<path d="M0.70,-59.19 L-7.75,-61.42 L-0.70,-63.29 L7.75,-61.06Z" fill="#90c994" stroke="#333" stroke-width="0.5" stroke-opacity="0.8" stroke-linejoin="round"/>
</g>
<g transform="translate(261.30,788.27)">
<path d="M0.70,2.05 L-7.75,-0.18 L-7.75,-81.33 L0.70,-79.10Z" fill="url(#gL0)" stroke="#333" stroke-width="0.5" stroke-opacity="0.8" stroke-linejoin="round"/>
<path d="M0.70,2.05 L7.75,0.18 L7.75,-80.97 L0.70,-79.10Z" fill="url(#gR0)" stroke="#333" stroke-width="0.5" stroke-opacity="0.8" stroke-linejoin="round"/>
<path d="M0.70,-79.10 L-7.75,-81.33 L-0.70,-83.20 L7.75,-80.97Z" fill="#bac57d" stroke="#333" stroke-width="0.5" stroke-opacity="0.8" stroke-linejoin="round"/>
</g>
<g transform="translate(230.30,787.54)">
<path d="M0.70,2.05 L-7.75,-0.18 L-7.75,-89.58 L0.70,-87.35Z" fill="url(#gL0)" stroke="#333" stroke-width="0.5" stroke-opacity="0.8" stroke-linejoin="round"/>
<path d="M0.70,2.05 L7.75,0.18 L7.75,-89.21 L0.70,-87.35Z" fill="url(#gR0)" stroke="#333" stroke-width="0.5" stroke-opacity="0.8" stroke-linejoin="round"/>
<path d="M0.70,-87.35 L-7.75,-89.58 L-0.70,-91.44 L7.75,-89.21Z" fill="#cac178" stroke="#333" stroke-width="0.5" stroke-opacity="0.8" stroke-linejoin="round"/>
</g>
<g transform="translate(199.30,786.81)">
<path d="M0.70,2.05 L-7.75,-0.18 L-7.75,-98.31 L0.70,-96.08Z" fill="url(#gL0)" stroke="#333" stroke-width="0.5" stroke-opacity="0.8" stroke-linejoin="round"/>
<path d="M0.70,2.05 L7.75,0.18 L7.75,-97.94 L0.70,-96.08Z" fill="url(#gR0)" stroke="#333" stroke-width="0.5" stroke-opacity="0.8" stroke-linejoin="round"/>
<path d="M0.70,-96.08 L-7.75,-98.31 L-0.70,-100.17 L7.75,-97.94Z" fill="#dabc78" stroke="#333" stroke-width="0.5" stroke-opacity="0.8" stroke-linejoin="round"/>
</g>
<g transform="translate(168.30,786.08)">
<path d="M0.70,2.05 L-7.75,-0.18 L-7.75,-99.84 L0.70,-97.61Z" fill="url(#gL0)" stroke="#333" stroke-width="0.5" stroke-opacity="0.8" stroke-linejoin="round"/>
<path d="M0.70,2.05 L7.75,0.18 L7.75,-99.48 L0.70,-97.61Z" fill="url(#gR0)" stroke="#333" stroke-width="0.5" stroke-opacity="0.8" stroke-linejoin="round"/>
<path d="M0.70,-97.61 L-7.75,-99.84 L-0.70,-101.71 L7.75,-99.48Z" fill="#ddbb78" stroke="#333" stroke-width="0.5" stroke-opacity="0.8" stroke-linejoin="round"/>
</g>
<g transform="translate(137.30,785.35)">
<path d="M0.70,2.05 L-7.75,-0.18 L-7.75,-104.41 L0.70,-102.18Z" fill="url(#gL0)" stroke="#333" stroke-width="0.5" stroke-opacity="0.8" stroke-linejoin="round"/>
<path d="M0.70,2.05 L7.75,0.18 L7.75,-104.05 L0.70,-102.18Z" fill="url(#gR0)" stroke="#333" stroke-width="0.5" stroke-opacity="0.8" stroke-linejoin="round"/>
<path d="M0.70,-102.18 L-7.75,-104.41 L-0.70,-106.28 L7.75,-104.05Z" fill="#e4b878" stroke="#333" stroke-width="0.5" stroke-opacity="0.8" stroke-linejoin="round"/>
</g>
<g transform="translate(106.30,784.62)">
<path d="M0.70,2.05 L-7.75,-0.18 L-7.75,-99.96 L0.70,-97.73Z" fill="url(#gL0)" stroke="#333" stroke-width="0.5" stroke-opacity="0.8" stroke-linejoin="round"/>
<path d="M0.70,2.05 L7.75,0.18 L7.75,-99.59 L0.70,-97.73Z" fill="url(#gR0)" stroke="#333" stroke-width="0.5" stroke-opacity="0.8" stroke-linejoin="round"/>
<path d="M0.70,-97.73 L-7.75,-99.96 L-0.70,-101.82 L7.75,-99.59Z" fill="#ddbb78" stroke="#333" stroke-width="0.5" stroke-opacity="0.8" stroke-linejoin="round"/>
</g>
<g transform="translate(75.30,783.89)">
<path d="M0.70,2.05 L-7.75,-0.18 L-7.75,-102.40 L0.70,-100.17Z" fill="url(#gL0)" stroke="#333" stroke-width="0.5" stroke-opacity="0.8" stroke-linejoin="round"/>
<path d="M0.70,2.05 L7.75,0.18 L7.75,-102.04 L0.70,-100.17Z" fill="url(#gR0)" stroke="#333" stroke-width="0.5" stroke-opacity="0.8" stroke-linejoin="round"/>
<path d="M0.70,-100.17 L-7.75,-102.40 L-0.70,-104.27 L7.75,-102.04Z" fill="#e1b978" stroke="#333" stroke-width="0.5" stroke-opacity="0.8" stroke-linejoin="round"/>
</g>
<g transform="translate(278.20,792.73)">
<path d="M0.70,2.05 L-7.75,-0.18 L-7.75,-61.42 L0.70,-59.19Z" fill="url(#gL0)" stroke="#333" stroke-width="0.5" stroke-opacity="0.8" stroke-linejoin="round"/>
<path d="M0.70,2.05 L7.75,0.18 L7.75,-61.06 L0.70,-59.19Z" fill="url(#gR0)" stroke="#333" stroke-width="0.5" stroke-opacity="0.8" stroke-linejoin="round"/>
<path d="M0.70,-59.19 L-7.75,-61.42 L-0.70,-63.29 L7.75,-61.06Z" fill="#90c994" stroke="#333" stroke-width="0.5" stroke-opacity="0.8" stroke-linejoin="round"/>
</g>
<g transform="translate(247.20,792.00)">
<path d="M0.70,2.05 L-7.75,-0.18 L-7.75,-77.49 L0.70,-75.26Z" fill="url(#gL0)" stroke="#333" stroke-width="0.5" stroke-opacity="0.8" stroke-linejoin="round"/>
<path d="M0.70,2.05 L7.75,0.18 L7.75,-77.13 L0.70,-75.26Z" fill="url(#gR0)" stroke="#333" stroke-width="0.5" stroke-opacity="0.8" stroke-linejoin="round"/>
<path d="M0.70,-75.26 L-7.75,-77.49 L-0.70,-79.36 L7.75,-77.13Z" fill="#b3c77f" stroke="#333" stroke-width="0.5" stroke-opacity="0.8" stroke-linejoin="round"/>
</g>
<g transform="translate(216.20,791.27)">
<path d="M0.70,2.05 L-7.75,-0.18 L-7.75,-89.58 L0.70,-87.35Z" fill="url(#gL0)" stroke="#333" stroke-width="0.5" stroke-opacity="0.8" stroke-linejoin="round"/>
<path d="M0.70,2.05 L7.75,0.18 L7.75,-89.21 L0.70,-87.35Z" fill="url(#gR0)" stroke="#333" stroke-width="0.5" stroke-opacity="0.8" stroke-linejoin="round"/>
<path d="M0.70,-87.35 L-7.75,-89.58 L-0.70,-91.44 L7.75,-89.21Z" fill="#cac178" stroke="#333" stroke-width="0.5" stroke-opacity="0.8" stroke-linejoin="round"/>
</g>
<g transform="translate(185.20,790.54)">
<path d="M0.70,2.05 L-7.75,-0.18 L-7.75,-92.39 L0.70,-90.16Z" fill="url(#gL0)" stroke="#333" stroke-width="0.5" stroke-opacity="0.8" stroke-linejoin="round"/>
<path d="M0.70,2.05 L7.75,0.18 L7.75,-92.02 L0.70,-90.16Z" fill="url(#gR0)" stroke="#333" stroke-width="0.5" stroke-opacity="0.8" stroke-linejoin="round"/>
<path d="M0.70,-90.16 L-7.75,-92.39 L-0.70,-94.25 L7.75,-92.02Z" fill="#cfbf78" stroke="#333" stroke-width="0.5" stroke-opacity="0.8" stroke-linejoin="round"/>
</g>
<g transform="translate(154.20,789.81)">
<path d="M0.70,2.05 L-7.75,-0.18 L-7.75,-99.84 L0.70,-97.61Z" fill="url(#gL0)" stroke="#333" stroke-width="0.5" stroke-opacity="0.8" stroke-linejoin="round"/>
<path d="M0.70,2.05 L7.75,0.18 L7.75,-99.48 L0.70,-97.61Z" fill="url(#gR0)" stroke="#333" stroke-width="0.5" stroke-opacity="0.8" stroke-linejoin="round"/>
<path d="M0.70,-97.61 L-7.75,-99.84 L-0.70,-101.71 L7.75,-99.48Z" fill="#ddbb78" stroke="#333" stroke-width="0.5" stroke-opacity="0.8" stroke-linejoin="round"/>
</g>
<g transform="translate(123.20,789.08)">
<path d="M0.70,2.05 L-7.75,-0.18 L-7.75,-94.60 L0.70,-92.37Z" fill="url(#gL0)" stroke="#333" stroke-width="0.5" stroke-opacity="0.8" stroke-linejoin="round"/>
<path d="M0.70,2.05 L7.75,0.18 L7.75,-94.23 L0.70,-92.37Z" fill="url(#gR0)" stroke="#333" stroke-width="0.5" stroke-opacity="0.8" stroke-linejoin="round"/>
<path d="M0.70,-92.37 L-7.75,-94.60 L-0.70,-96.46 L7.75,-94.23Z" fill="#d3be78" stroke="#333" stroke-width="0.5" stroke-opacity="0.8" stroke-linejoin="round"/>
</g>
<g transform="translate(92.20,788.35)">
<path d="M0.70,2.05 L-7.75,-0.18 L-7.75,-99.96 L0.70,-97.73Z" fill="url(#gL0)" stroke="#333" stroke-width="0.5" stroke-opacity="0.8" stroke-linejoin="round"/>
<path d="M0.70,2.05 L7.75,0.18 L7.75,-99.59 L0.70,-97.73Z" fill="url(#gR0)" stroke="#333" stroke-width="0.5" stroke-opacity="0.8" stroke-linejoin="round"/>
<path d="M0.70,-97.73 L-7.75,-99.96 L-0.70,-101.82 L7.75,-99.59Z" fill="#ddbb78" stroke="#333" stroke-width="0.5" stroke-opacity="0.8" stroke-linejoin="round"/>
</g>
<g transform="translate(264.10,796.46)">
<path d="M0.70,2.05 L-7.75,-0.18 L-7.75,-58.93 L0.70,-56.70Z" fill="url(#gL0)" stroke="#333" stroke-width="0.5" stroke-opacity="0.8" stroke-linejoin="round"/>
<path d="M0.70,2.05 L7.75,0.18 L7.75,-58.56 L0.70,-56.70Z" fill="url(#gR0)" stroke="#333" stroke-width="0.5" stroke-opacity="0.8" stroke-linejoin="round"/>
<path d="M0.70,-56.70 L-7.75,-58.93 L-0.70,-60.79 L7.75,-58.56Z" fill="#8bc998" stroke="#333" stroke-width="0.5" stroke-opacity="0.8" stroke-linejoin="round"/>
</g>
<g transform="translate(233.10,795.73)">
<path d="M0.70,2.05 L-7.75,-0.18 L-7.75,-77.49 L0.70,-75.26Z" fill="url(#gL0)" stroke="#333" stroke-width="0.5" stroke-opacity="0.8" stroke-linejoin="round"/>
<path d="M0.70,2.05 L7.75,0.18 L7.75,-77.13 L0.70,-75.26Z" fill="url(#gR0)" stroke="#333" stroke-width="0.5" stroke-opacity="0.8" stroke-linejoin="round"/>
<path d="M0.70,-75.26 L-7.75,-77.49 L-0.70,-79.36 L7.75,-77.13Z" fill="#b3c77f" stroke="#333" stroke-width="0.5" stroke-opacity="0.8" stroke-linejoin="round"/>
</g>
<g transform="translate(202.10,795.00)">
<path d="M0.70,2.05 L-7.75,-0.18 L-7.75,-83.75 L0.70,-81.52Z" fill="url(#gL0)" stroke="#333" stroke-width="0.5" stroke-opacity="0.8" stroke-linejoin="round"/>
<path d="M0.70,2.05 L7.75,0.18 L7.75,-83.39 L0.70,-81.52Z" fill="url(#gR0)" stroke="#333" stroke-width="0.5" stroke-opacity="0.8" stroke-linejoin="round"/>
<path d="M0.70,-81.52 L-7.75,-83.75 L-0.70,-85.62 L7.75,-83.39Z" fill="#bfc47b" stroke="#333" stroke-width="0.5" stroke-opacity="0.8" stroke-linejoin="round"/>
</g>
<g transform="translate(171.10,794.27)">
<path d="M0.70,2.05 L-7.75,-0.18 L-7.75,-92.39 L0.70,-90.16Z" fill="url(#gL0)" stroke="#333" stroke-width="0.5" stroke-opacity="0.8" stroke-linejoin="round"/>
<path d="M0.70,2.05 L7.75,0.18 L7.75,-92.02 L0.70,-90.16Z" fill="url(#gR0)" stroke="#333" stroke-width="0.5" stroke-opacity="0.8" stroke-linejoin="round"/>
<path d="M0.70,-90.16 L-7.75,-92.39 L-0.70,-94.25 L7.75,-92.02Z" fill="#cfbf78" stroke="#333" stroke-width="0.5" stroke-opacity="0.8" stroke-linejoin="round"/>
</g>
<g transform="translate(140.10,793.54)">
<path d="M0.70,2.05 L-7.75,-0.18 L-7.75,-90.39 L0.70,-88.16Z" fill="url(#gL0)" stroke="#333" stroke-width="0.5" stroke-opacity="0.8" stroke-linejoin="round"/>
<path d="M0.70,2.05 L7.75,0.18 L7.75,-90.03 L0.70,-88.16Z" fill="url(#gR0)" stroke="#333" stroke-width="0.5" stroke-opacity="0.8" stroke-linejoin="round"/>
<path d="M0.70,-88.16 L-7.75,-90.39 L-0.70,-92.26 L7.75,-90.03Z" fill="#ccc178" stroke="#333" stroke-width="0.5" stroke-opacity="0.8" stroke-linejoin="round"/>
</g>
<g transform="translate(109.10,792.81)">
<path d="M0.70,2.05 L-7.75,-0.18 L-7.75,-94.60 L0.70,-92.37Z" fill="url(#gL0)" stroke="#333" stroke-width="0.5" stroke-opacity="0.8" stroke-linejoin="round"/>
<path d="M0.70,2.05 L7.75,0.18 L7.75,-94.23 L0.70,-92.37Z" fill="url(#gR0)" stroke="#333" stroke-width="0.5" stroke-opacity="0.8" stroke-linejoin="round"/>
<path d="M0.70,-92.37 L-7.75,-94.60 L-0.70,-96.46 L7.75,-94.23Z" fill="#d3be78" stroke="#333" stroke-width="0.5" stroke-opacity="0.8" stroke-linejoin="round"/>
</g>
<g transform="translate(250.00,800.19)">
<path d="M0.70,2.05 L-7.75,-0.18 L-7.75,-58.93 L0.70,-56.70Z" fill="url(#gL0)" stroke="#333" stroke-width="0.5" stroke-opacity="0.8" stroke-linejoin="round"/>
<path d="M0.70,2.05 L7.75,0.18 L7.75,-58.56 L0.70,-56.70Z" fill="url(#gR0)" stroke="#333" stroke-width="0.5" stroke-opacity="0.8" stroke-linejoin="round"/>
<path d="M0.70,-56.70 L-7.75,-58.93 L-0.70,-60.79 L7.75,-58.56Z" fill="#8bc998" stroke="#333" stroke-width="0.5" stroke-opacity="0.8" stroke-linejoin="round"/>
</g>
<g transform="translate(219.00,799.46)">
<path d="M0.70,2.05 L-7.75,-0.18 L-7.75,-72.46 L0.70,-70.23Z" fill="url(#gL0)" stroke="#333" stroke-width="0.5" stroke-opacity="0.8" stroke-linejoin="round"/>
<path d="M0.70,2.05 L7.75,0.18 L7.75,-72.10 L0.70,-70.23Z" fill="url(#gR0)" stroke="#333" stroke-width="0.5" stroke-opacity="0.8" stroke-linejoin="round"/>
<path d="M0.70,-70.23 L-7.75,-72.46 L-0.70,-74.33 L7.75,-72.10Z" fill="#a8c885" stroke="#333" stroke-width="0.5" stroke-opacity="0.8" stroke-linejoin="round"/>
</g>
<g transform="translate(188.00,798.73)">
<path d="M0.70,2.05 L-7.75,-0.18 L-7.75,-83.75 L0.70,-81.52Z" fill="url(#gL0)" stroke="#333" stroke-width="0.5" stroke-opacity="0.8" stroke-linejoin="round"/>
<path d="M0.70,2.05 L7.75,0.18 L7.75,-83.39 L0.70,-81.52Z" fill="url(#gR0)" stroke="#333" stroke-width="0.5" stroke-opacity="0.8" stroke-linejoin="round"/>
<path d="M0.70,-81.52 L-7.75,-83.75 L-0.70,-85.62 L7.75,-83.39Z" fill="#bfc47b" stroke="#333" stroke-width="0.5" stroke-opacity="0.8" stroke-linejoin="round"/>
</g>
<g transform="translate(157.00,798.00)">
<path d="M0.70,2.05 L-7.75,-0.18 L-7.75,-83.03 L0.70,-80.80Z" fill="url(#gL0)" stroke="#333" stroke-width="0.5" stroke-opacity="0.8" stroke-linejoin="round"/>
<path d="M0.70,2.05 L7.75,0.18 L7.75,-82.67 L0.70,-80.80Z" fill="url(#gR0)" stroke="#333" stroke-width="0.5" stroke-opacity="0.8" stroke-linejoin="round"/>
<path d="M0.70,-80.80 L-7.75,-83.03 L-0.70,-84.90 L7.75,-82.67Z" fill="#bec47c" stroke="#333" stroke-width="0.5" stroke-opacity="0.8" stroke-linejoin="round"/>
</g>
<g transform="translate(126.00,797.27)">
<path d="M0.70,2.05 L-7.75,-0.18 L-7.75,-90.39 L0.70,-88.16Z" fill="url(#gL0)" stroke="#333" stroke-width="0.5" stroke-opacity="0.8" stroke-linejoin="round"/>
<path d="M0.70,2.05 L7.75,0.18 L7.75,-90.03 L0.70,-88.16Z" fill="url(#gR0)" stroke="#333" stroke-width="0.5" stroke-opacity="0.8" stroke-linejoin="round"/>
<path d="M0.70,-88.16 L-7.75,-90.39 L-0.70,-92.26 L7.75,-90.03Z" fill="#ccc178" stroke="#333" stroke-width="0.5" stroke-opacity="0.8" stroke-linejoin="round"/>
</g>
<g transform="translate(235.90,803.92)">
<path d="M0.70,2.05 L-7.75,-0.18 L-7.75,-55.98 L0.70,-53.75Z" fill="url(#gL0)" stroke="#333" stroke-width="0.5" stroke-opacity="0.8" stroke-linejoin="round"/>
<path d="M0.70,2.05 L7.75,0.18 L7.75,-55.62 L0.70,-53.75Z" fill="url(#gR0)" stroke="#333" stroke-width="0.5" stroke-opacity="0.8" stroke-linejoin="round"/>
<path d="M0.70,-53.75 L-7.75,-55.98 L-0.70,-57.85 L7.75,-55.62Z" fill="#85ca9d" stroke="#333" stroke-width="0.5" stroke-opacity="0.8" stroke-linejoin="round"/>
</g>
<g transform="translate(204.90,803.19)">
<path d="M0.70,2.05 L-7.75,-0.18 L-7.75,-72.46 L0.70,-70.23Z" fill="url(#gL0)" stroke="#333" stroke-width="0.5" stroke-opacity="0.8" stroke-linejoin="round"/>
<path d="M0.70,2.05 L7.75,0.18 L7.75,-72.10 L0.70,-70.23Z" fill="url(#gR0)" stroke="#333" stroke-width="0.5" stroke-opacity="0.8" stroke-linejoin="round"/>
<path d="M0.70,-70.23 L-7.75,-72.46 L-0.70,-74.33 L7.75,-72.10Z" fill="#a8c885" stroke="#333" stroke-width="0.5" stroke-opacity="0.8" stroke-linejoin="round"/>
</g>
<g transform="translate(173.90,802.46)">
<path d="M0.70,2.05 L-7.75,-0.18 L-7.75,-74.63 L0.70,-72.40Z" fill="url(#gL0)" stroke="#333" stroke-width="0.5" stroke-opacity="0.8" stroke-linejoin="round"/>
<path d="M0.70,2.05 L7.75,0.18 L7.75,-74.26 L0.70,-72.40Z" fill="url(#gR0)" stroke="#333" stroke-width="0.5" stroke-opacity="0.8" stroke-linejoin="round"/>
<path d="M0.70,-72.40 L-7.75,-74.63 L-0.70,-76.49 L7.75,-74.26Z" fill="#adc782" stroke="#333" stroke-width="0.5" stroke-opacity="0.8" stroke-linejoin="round"/>
</g>
<g transform="translate(142.90,801.73)">
<path d="M0.70,2.05 L-7.75,-0.18 L-7.75,-83.03 L0.70,-80.80Z" fill="url(#gL0)" stroke="#333" stroke-width="0.5" stroke-opacity="0.8" stroke-linejoin="round"/>
<path d="M0.70,2.05 L7.75,0.18 L7.75,-82.67 L0.70,-80.80Z" fill="url(#gR0)" stroke="#333" stroke-width="0.5" stroke-opacity="0.8" stroke-linejoin="round"/>
<path d="M0.70,-80.80 L-7.75,-83.03 L-0.70,-84.90 L7.75,-82.67Z" fill="#bec47c" stroke="#333" stroke-width="0.5" stroke-opacity="0.8" stroke-linejoin="round"/>
</g>
<g transform="translate(221.80,807.65)">
<path d="M0.70,2.05 L-7.75,-0.18 L-7.75,-55.98 L0.70,-53.75Z" fill="url(#gL0)" stroke="#333" stroke-width="0.5" stroke-opacity="0.8" stroke-linejoin="round"/>
<path d="M0.70,2.05 L7.75,0.18 L7.75,-55.62 L0.70,-53.75Z" fill="url(#gR0)" stroke="#333" stroke-width="0.5" stroke-opacity="0.8" stroke-linejoin="round"/>
<path d="M0.70,-53.75 L-7.75,-55.98 L-0.70,-57.85 L7.75,-55.62Z" fill="#85ca9d" stroke="#333" stroke-width="0.5" stroke-opacity="0.8" stroke-linejoin="round"/>
</g>
<g transform="translate(190.80,806.92)">
<path d="M0.70,2.05 L-7.75,-0.18 L-7.75,-65.18 L0.70,-62.95Z" fill="url(#gL0)" stroke="#333" stroke-width="0.5" stroke-opacity="0.8" stroke-linejoin="round"/>
<path d="M0.70,2.05 L7.75,0.18 L7.75,-64.81 L0.70,-62.95Z" fill="url(#gR0)" stroke="#333" stroke-width="0.5" stroke-opacity="0.8" stroke-linejoin="round"/>
<path d="M0.70,-62.95 L-7.75,-65.18 L-0.70,-67.04 L7.75,-64.81Z" fill="#98c98e" stroke="#333" stroke-width="0.5" stroke-opacity="0.8" stroke-linejoin="round"/>
</g>
<g transform="translate(159.80,806.19)">
<path d="M0.70,2.05 L-7.75,-0.18 L-7.75,-74.63 L0.70,-72.40Z" fill="url(#gL0)" stroke="#333" stroke-width="0.5" stroke-opacity="0.8" stroke-linejoin="round"/>
<path d="M0.70,2.05 L7.75,0.18 L7.75,-74.26 L0.70,-72.40Z" fill="url(#gR0)" stroke="#333" stroke-width="0.5" stroke-opacity="0.8" stroke-linejoin="round"/>
<path d="M0.70,-72.40 L-7.75,-74.63 L-0.70,-76.49 L7.75,-74.26Z" fill="#adc782" stroke="#333" stroke-width="0.5" stroke-opacity="0.8" stroke-linejoin="round"/>
</g>
<g transform="translate(207.70,811.38)">
<path d="M0.70,2.05 L-7.75,-0.18 L-7.75,-52.39 L0.70,-50.16Z" fill="url(#gL0)" stroke="#333" stroke-width="0.5" stroke-opacity="0.8" stroke-linejoin="round"/>
<path d="M0.70,2.05 L7.75,0.18 L7.75,-52.03 L0.70,-50.16Z" fill="url(#gR0)" stroke="#333" stroke-width="0.5" stroke-opacity="0.8" stroke-linejoin="round"/>
<path d="M0.70,-50.16 L-7.75,-52.39 L-0.70,-54.26 L7.75,-52.03Z" fill="#7ecaa3" stroke="#333" stroke-width="0.5" stroke-opacity="0.8" stroke-linejoin="round"/>
</g>
<g transform="translate(176.70,810.65)">
<path d="M0.70,2.05 L-7.75,-0.18 L-7.75,-65.18 L0.70,-62.95Z" fill="url(#gL0)" stroke="#333" stroke-width="0.5" stroke-opacity="0.8" stroke-linejoin="round"/>
<path d="M0.70,2.05 L7.75,0.18 L7.75,-64.81 L0.70,-62.95Z" fill="url(#gR0)" stroke="#333" stroke-width="0.5" stroke-opacity="0.8" stroke-linejoin="round"/>
<path d="M0.70,-62.95 L-7.75,-65.18 L-0.70,-67.04 L7.75,-64.81Z" fill="#98c98e" stroke="#333" stroke-width="0.5" stroke-opacity="0.8" stroke-linejoin="round"/>
</g>
<g transform="translate(193.60,815.11)">
<path d="M0.70,2.05 L-7.75,-0.18 L-7.75,-52.39 L0.70,-50.16Z" fill="url(#gL0)" stroke="#333" stroke-width="0.5" stroke-opacity="0.8" stroke-linejoin="round"/>
<path d="M0.70,2.05 L7.75,0.18 L7.75,-52.03 L0.70,-50.16Z" fill="url(#gR0)" stroke="#333" stroke-width="0.5" stroke-opacity="0.8" stroke-linejoin="round"/>
<path d="M0.70,-50.16 L-7.75,-52.39 L-0.70,-54.26 L7.75,-52.03Z" fill="#7ecaa3" stroke="#333" stroke-width="0.5" stroke-opacity="0.8" stroke-linejoin="round"/>
</g>
<g transform="translate(523.16,758.58)">
<path d="M0.69,2.02 L-7.75,-0.21 L-7.75,-87.52 L0.69,-85.29Z" fill="url(#gL1)" stroke="#333" stroke-width="0.5" stroke-opacity="0.8" stroke-linejoin="round"/>
<path d="M0.69,2.02 L7.75,0.21 L7.75,-87.10 L0.69,-85.29Z" fill="url(#gR1)" stroke="#333" stroke-width="0.5" stroke-opacity="0.8" stroke-linejoin="round"/>
<path d="M0.69,-85.29 L-7.75,-87.52 L-0.69,-89.33 L7.75,-87.10Z" fill="#c6c279" stroke="#333" stroke-width="0.5" stroke-opacity="0.8" stroke-linejoin="round"/>
</g>
<g transform="translate(540.06,763.04)">
<path d="M0.69,2.02 L-7.75,-0.21 L-7.75,-83.81 L0.69,-81.58Z" fill="url(#gL1)" stroke="#333" stroke-width="0.5" stroke-opacity="0.8" stroke-linejoin="round"/>
<path d="M0.69,2.02 L7.75,0.21 L7.75,-83.39 L0.69,-81.58Z" fill="url(#gR1)" stroke="#333" stroke-width="0.5" stroke-opacity="0.8" stroke-linejoin="round"/>
<path d="M0.69,-81.58 L-7.75,-83.81 L-0.69,-85.62 L7.75,-83.39Z" fill="#bfc47b" stroke="#333" stroke-width="0.5" stroke-opacity="0.8" stroke-linejoin="round"/>
</g>
<g transform="translate(509.04,762.21)">
<path d="M0.69,2.02 L-7.75,-0.21 L-7.75,-86.92 L0.69,-84.69Z" fill="url(#gL1)" stroke="#333" stroke-width="0.5" stroke-opacity="0.8" stroke-linejoin="round"/>
<path d="M0.69,2.02 L7.75,0.21 L7.75,-86.51 L0.69,-84.69Z" fill="url(#gR1)" stroke="#333" stroke-width="0.5" stroke-opacity="0.8" stroke-linejoin="round"/>
<path d="M0.69,-84.69 L-7.75,-86.92 L-0.69,-88.74 L7.75,-86.51Z" fill="#c5c27a" stroke="#333" stroke-width="0.5" stroke-opacity="0.8" stroke-linejoin="round"/>
</g>
<g transform="translate(556.96,767.50)">
<path d="M0.69,2.02 L-7.75,-0.21 L-7.75,-80.03 L0.69,-77.80Z" fill="url(#gL1)" stroke="#333" stroke-width="0.5" stroke-opacity="0.8" stroke-linejoin="round"/>
<path d="M0.69,2.02 L7.75,0.21 L7.75,-79.61 L0.69,-77.80Z" fill="url(#gR1)" stroke="#333" stroke-width="0.5" stroke-opacity="0.8" stroke-linejoin="round"/>
<path d="M0.69,-77.80 L-7.75,-80.03 L-0.69,-81.84 L7.75,-79.61Z" fill="#b8c67d" stroke="#333" stroke-width="0.5" stroke-opacity="0.8" stroke-linejoin="round"/>
</g>
<g transform="translate(525.94,766.67)">
<path d="M0.69,2.02 L-7.75,-0.21 L-7.75,-83.22 L0.69,-80.99Z" fill="url(#gL1)" stroke="#333" stroke-width="0.5" stroke-opacity="0.8" stroke-linejoin="round"/>
<path d="M0.69,2.02 L7.75,0.21 L7.75,-82.81 L0.69,-80.99Z" fill="url(#gR1)" stroke="#333" stroke-width="0.5" stroke-opacity="0.8" stroke-linejoin="round"/>
<path d="M0.69,-80.99 L-7.75,-83.22 L-0.69,-85.04 L7.75,-82.81Z" fill="#bec47c" stroke="#333" stroke-width="0.5" stroke-opacity="0.8" stroke-linejoin="round"/>
</g>
<g transform="translate(494.92,765.84)">
<path d="M0.69,2.02 L-7.75,-0.21 L-7.75,-86.33 L0.69,-84.10Z" fill="url(#gL1)" stroke="#333" stroke-width="0.5" stroke-opacity="0.8" stroke-linejoin="round"/>
<path d="M0.69,2.02 L7.75,0.21 L7.75,-85.92 L0.69,-84.10Z" fill="url(#gR1)" stroke="#333" stroke-width="0.5" stroke-opacity="0.8" stroke-linejoin="round"/>
<path d="M0.69,-84.10 L-7.75,-86.33 L-0.69,-88.15 L7.75,-85.92Z" fill="#c4c37a" stroke="#333" stroke-width="0.5" stroke-opacity="0.8" stroke-linejoin="round"/>
</g>
<g transform="translate(573.86,771.96)">
<path d="M0.69,2.02 L-7.75,-0.21 L-7.75,-76.53 L0.69,-74.30Z" fill="url(#gL1)" stroke="#333" stroke-width="0.5" stroke-opacity="0.8" stroke-linejoin="round"/>
<path d="M0.69,2.02 L7.75,0.21 L7.75,-76.12 L0.69,-74.30Z" fill="url(#gR1)" stroke="#333" stroke-width="0.5" stroke-opacity="0.8" stroke-linejoin="round"/>
<path d="M0.69,-74.30 L-7.75,-76.53 L-0.69,-78.35 L7.75,-76.12Z" fill="#b1c780" stroke="#333" stroke-width="0.5" stroke-opacity="0.8" stroke-linejoin="round"/>
</g>
<g transform="translate(542.84,771.13)">
<path d="M0.69,2.02 L-7.75,-0.21 L-7.75,-79.40 L0.69,-77.17Z" fill="url(#gL1)" stroke="#333" stroke-width="0.5" stroke-opacity="0.8" stroke-linejoin="round"/>
<path d="M0.69,2.02 L7.75,0.21 L7.75,-78.99 L0.69,-77.17Z" fill="url(#gR1)" stroke="#333" stroke-width="0.5" stroke-opacity="0.8" stroke-linejoin="round"/>
<path d="M0.69,-77.17 L-7.75,-79.40 L-0.69,-81.22 L7.75,-78.99Z" fill="#b6c67e" stroke="#333" stroke-width="0.5" stroke-opacity="0.8" stroke-linejoin="round"/>
</g>
<g transform="translate(511.82,770.30)">
<path d="M0.69,2.02 L-7.75,-0.21 L-7.75,-82.64 L0.69,-80.41Z" fill="url(#gL1)" stroke="#333" stroke-width="0.5" stroke-opacity="0.8" stroke-linejoin="round"/>
<path d="M0.69,2.02 L7.75,0.21 L7.75,-82.22 L0.69,-80.41Z" fill="url(#gR1)" stroke="#333" stroke-width="0.5" stroke-opacity="0.8" stroke-linejoin="round"/>
<path d="M0.69,-80.41 L-7.75,-82.64 L-0.69,-84.45 L7.75,-82.22Z" fill="#bdc47c" stroke="#333" stroke-width="0.5" stroke-opacity="0.8" stroke-linejoin="round"/>
</g>
<g transform="translate(480.80,769.47)">
<path d="M0.69,2.02 L-7.75,-0.21 L-7.75,-85.74 L0.69,-83.51Z" fill="url(#gL1)" stroke="#333" stroke-width="0.5" stroke-opacity="0.8" stroke-linejoin="round"/>
<path d="M0.69,2.02 L7.75,0.21 L7.75,-85.32 L0.69,-83.51Z" fill="url(#gR1)" stroke="#333" stroke-width="0.5" stroke-opacity="0.8" stroke-linejoin="round"/>
<path d="M0.69,-83.51 L-7.75,-85.74 L-0.69,-87.55 L7.75,-85.32Z" fill="#c3c37a" stroke="#333" stroke-width="0.5" stroke-opacity="0.8" stroke-linejoin="round"/>
</g>
<g transform="translate(590.76,776.42)">
<path d="M0.69,2.02 L-7.75,-0.21 L-7.75,-72.45 L0.69,-70.22Z" fill="url(#gL1)" stroke="#333" stroke-width="0.5" stroke-opacity="0.8" stroke-linejoin="round"/>
<path d="M0.69,2.02 L7.75,0.21 L7.75,-72.03 L0.69,-70.22Z" fill="url(#gR1)" stroke="#333" stroke-width="0.5" stroke-opacity="0.8" stroke-linejoin="round"/>
<path d="M0.69,-70.22 L-7.75,-72.45 L-0.69,-74.26 L7.75,-72.03Z" fill="#a8c885" stroke="#333" stroke-width="0.5" stroke-opacity="0.8" stroke-linejoin="round"/>
</g>
<g transform="translate(559.74,775.59)">
<path d="M0.69,2.02 L-7.75,-0.21 L-7.75,-75.80 L0.69,-73.57Z" fill="url(#gL1)" stroke="#333" stroke-width="0.5" stroke-opacity="0.8" stroke-linejoin="round"/>
<path d="M0.69,2.02 L7.75,0.21 L7.75,-75.38 L0.69,-73.57Z" fill="url(#gR1)" stroke="#333" stroke-width="0.5" stroke-opacity="0.8" stroke-linejoin="round"/>
<path d="M0.69,-73.57 L-7.75,-75.80 L-0.69,-77.61 L7.75,-75.38Z" fill="#afc781" stroke="#333" stroke-width="0.5" stroke-opacity="0.8" stroke-linejoin="round"/>
</g>
<g transform="translate(528.72,774.76)">
<path d="M0.69,2.02 L-7.75,-0.21 L-7.75,-78.78 L0.69,-76.55Z" fill="url(#gL1)" stroke="#333" stroke-width="0.5" stroke-opacity="0.8" stroke-linejoin="round"/>
<path d="M0.69,2.02 L7.75,0.21 L7.75,-78.37 L0.69,-76.55Z" fill="url(#gR1)" stroke="#333" stroke-width="0.5" stroke-opacity="0.8" stroke-linejoin="round"/>
<path d="M0.69,-76.55 L-7.75,-78.78 L-0.69,-80.60 L7.75,-78.37Z" fill="#b5c67e" stroke="#333" stroke-width="0.5" stroke-opacity="0.8" stroke-linejoin="round"/>
</g>
<g transform="translate(497.70,773.93)">
<path d="M0.69,2.02 L-7.75,-0.21 L-7.75,-82.05 L0.69,-79.82Z" fill="url(#gL1)" stroke="#333" stroke-width="0.5" stroke-opacity="0.8" stroke-linejoin="round"/>
<path d="M0.69,2.02 L7.75,0.21 L7.75,-81.64 L0.69,-79.82Z" fill="url(#gR1)" stroke="#333" stroke-width="0.5" stroke-opacity="0.8" stroke-linejoin="round"/>
<path d="M0.69,-79.82 L-7.75,-82.05 L-0.69,-83.87 L7.75,-81.64Z" fill="#bcc57c" stroke="#333" stroke-width="0.5" stroke-opacity="0.8" stroke-linejoin="round"/>
</g>
<g transform="translate(466.68,773.10)">
<path d="M0.69,2.02 L-7.75,-0.21 L-7.75,-85.15 L0.69,-82.92Z" fill="url(#gL1)" stroke="#333" stroke-width="0.5" stroke-opacity="0.8" stroke-linejoin="round"/>
<path d="M0.69,2.02 L7.75,0.21 L7.75,-84.73 L0.69,-82.92Z" fill="url(#gR1)" stroke="#333" stroke-width="0.5" stroke-opacity="0.8" stroke-linejoin="round"/>
<path d="M0.69,-82.92 L-7.75,-85.15 L-0.69,-86.96 L7.75,-84.73Z" fill="#c2c37b" stroke="#333" stroke-width="0.5" stroke-opacity="0.8" stroke-linejoin="round"/>
</g>
<g transform="translate(607.66,780.88)">
<path d="M0.69,2.02 L-7.75,-0.21 L-7.75,-68.38 L0.69,-66.15Z" fill="url(#gL1)" stroke="#333" stroke-width="0.5" stroke-opacity="0.8" stroke-linejoin="round"/>
<path d="M0.69,2.02 L7.75,0.21 L7.75,-67.96 L0.69,-66.15Z" fill="url(#gR1)" stroke="#333" stroke-width="0.5" stroke-opacity="0.8" stroke-linejoin="round"/>
<path d="M0.69,-66.15 L-7.75,-68.38 L-0.69,-70.19 L7.75,-67.96Z" fill="#9fc88a" stroke="#333" stroke-width="0.5" stroke-opacity="0.8" stroke-linejoin="round"/>
</g>
<g transform="translate(576.64,780.05)">
<path d="M0.69,2.02 L-7.75,-0.21 L-7.75,-71.42 L0.69,-69.19Z" fill="url(#gL1)" stroke="#333" stroke-width="0.5" stroke-opacity="0.8" stroke-linejoin="round"/>
<path d="M0.69,2.02 L7.75,0.21 L7.75,-71.01 L0.69,-69.19Z" fill="url(#gR1)" stroke="#333" stroke-width="0.5" stroke-opacity="0.8" stroke-linejoin="round"/>
<path d="M0.69,-69.19 L-7.75,-71.42 L-0.69,-73.24 L7.75,-71.01Z" fill="#a6c886" stroke="#333" stroke-width="0.5" stroke-opacity="0.8" stroke-linejoin="round"/>
</g>
<g transform="translate(545.62,779.22)">
<path d="M0.69,2.02 L-7.75,-0.21 L-7.75,-75.06 L0.69,-72.83Z" fill="url(#gL1)" stroke="#333" stroke-width="0.5" stroke-opacity="0.8" stroke-linejoin="round"/>
<path d="M0.69,2.02 L7.75,0.21 L7.75,-74.65 L0.69,-72.83Z" fill="url(#gR1)" stroke="#333" stroke-width="0.5" stroke-opacity="0.8" stroke-linejoin="round"/>
<path d="M0.69,-72.83 L-7.75,-75.06 L-0.69,-76.88 L7.75,-74.65Z" fill="#adc782" stroke="#333" stroke-width="0.5" stroke-opacity="0.8" stroke-linejoin="round"/>
</g>
<g transform="translate(514.60,778.39)">
<path d="M0.69,2.02 L-7.75,-0.21 L-7.75,-78.16 L0.69,-75.93Z" fill="url(#gL1)" stroke="#333" stroke-width="0.5" stroke-opacity="0.8" stroke-linejoin="round"/>
<path d="M0.69,2.02 L7.75,0.21 L7.75,-77.74 L0.69,-75.93Z" fill="url(#gR1)" stroke="#333" stroke-width="0.5" stroke-opacity="0.8" stroke-linejoin="round"/>
<path d="M0.69,-75.93 L-7.75,-78.16 L-0.69,-79.97 L7.75,-77.74Z" fill="#b4c77e" stroke="#333" stroke-width="0.5" stroke-opacity="0.8" stroke-linejoin="round"/>
</g>
<g transform="translate(483.58,777.56)">
<path d="M0.69,2.02 L-7.75,-0.21 L-7.75,-81.47 L0.69,-79.24Z" fill="url(#gL1)" stroke="#333" stroke-width="0.5" stroke-opacity="0.8" stroke-linejoin="round"/>
<path d="M0.69,2.02 L7.75,0.21 L7.75,-81.05 L0.69,-79.24Z" fill="url(#gR1)" stroke="#333" stroke-width="0.5" stroke-opacity="0.8" stroke-linejoin="round"/>
<path d="M0.69,-79.24 L-7.75,-81.47 L-0.69,-83.28 L7.75,-81.05Z" fill="#bac57d" stroke="#333" stroke-width="0.5" stroke-opacity="0.8" stroke-linejoin="round"/>
</g>
<g transform="translate(452.56,776.73)">
<path d="M0.69,2.02 L-7.75,-0.21 L-7.75,-84.55 L0.69,-82.32Z" fill="url(#gL1)" stroke="#333" stroke-width="0.5" stroke-opacity="0.8" stroke-linejoin="round"/>
<path d="M0.69,2.02 L7.75,0.21 L7.75,-84.14 L0.69,-82.32Z" fill="url(#gR1)" stroke="#333" stroke-width="0.5" stroke-opacity="0.8" stroke-linejoin="round"/>
<path d="M0.69,-82.32 L-7.75,-84.55 L-0.69,-86.37 L7.75,-84.14Z" fill="#c0c47b" stroke="#333" stroke-width="0.5" stroke-opacity="0.8" stroke-linejoin="round"/>
</g>
<g transform="translate(624.56,785.34)">
<path d="M0.69,2.02 L-7.75,-0.21 L-7.75,-62.44 L0.69,-60.21Z" fill="url(#gL1)" stroke="#333" stroke-width="0.5" stroke-opacity="0.8" stroke-linejoin="round"/>
<path d="M0.69,2.02 L7.75,0.21 L7.75,-62.02 L0.69,-60.21Z" fill="url(#gR1)" stroke="#333" stroke-width="0.5" stroke-opacity="0.8" stroke-linejoin="round"/>
<path d="M0.69,-60.21 L-7.75,-62.44 L-0.69,-64.25 L7.75,-62.02Z" fill="#92c992" stroke="#333" stroke-width="0.5" stroke-opacity="0.8" stroke-linejoin="round"/>
</g>
<g transform="translate(593.54,784.51)">
<path d="M0.69,2.02 L-7.75,-0.21 L-7.75,-66.88 L0.69,-64.65Z" fill="url(#gL1)" stroke="#333" stroke-width="0.5" stroke-opacity="0.8" stroke-linejoin="round"/>
<path d="M0.69,2.02 L7.75,0.21 L7.75,-66.47 L0.69,-64.65Z" fill="url(#gR1)" stroke="#333" stroke-width="0.5" stroke-opacity="0.8" stroke-linejoin="round"/>
<path d="M0.69,-64.65 L-7.75,-66.88 L-0.69,-68.70 L7.75,-66.47Z" fill="#9cc98c" stroke="#333" stroke-width="0.5" stroke-opacity="0.8" stroke-linejoin="round"/>
</g>
<g transform="translate(562.52,783.68)">
<path d="M0.69,2.02 L-7.75,-0.21 L-7.75,-70.40 L0.69,-68.17Z" fill="url(#gL1)" stroke="#333" stroke-width="0.5" stroke-opacity="0.8" stroke-linejoin="round"/>
<path d="M0.69,2.02 L7.75,0.21 L7.75,-69.98 L0.69,-68.17Z" fill="url(#gR1)" stroke="#333" stroke-width="0.5" stroke-opacity="0.8" stroke-linejoin="round"/>
<path d="M0.69,-68.17 L-7.75,-70.40 L-0.69,-72.21 L7.75,-69.98Z" fill="#a3c887" stroke="#333" stroke-width="0.5" stroke-opacity="0.8" stroke-linejoin="round"/>
</g>
<g transform="translate(531.50,782.85)">
<path d="M0.69,2.02 L-7.75,-0.21 L-7.75,-74.33 L0.69,-72.10Z" fill="url(#gL1)" stroke="#333" stroke-width="0.5" stroke-opacity="0.8" stroke-linejoin="round"/>
<path d="M0.69,2.02 L7.75,0.21 L7.75,-73.91 L0.69,-72.10Z" fill="url(#gR1)" stroke="#333" stroke-width="0.5" stroke-opacity="0.8" stroke-linejoin="round"/>
<path d="M0.69,-72.10 L-7.75,-74.33 L-0.69,-76.14 L7.75,-73.91Z" fill="#acc782" stroke="#333" stroke-width="0.5" stroke-opacity="0.8" stroke-linejoin="round"/>
</g>
<g transform="translate(500.48,782.02)">
<path d="M0.69,2.02 L-7.75,-0.21 L-7.75,-77.54 L0.69,-75.31Z" fill="url(#gL1)" stroke="#333" stroke-width="0.5" stroke-opacity="0.8" stroke-linejoin="round"/>
<path d="M0.69,2.02 L7.75,0.21 L7.75,-77.12 L0.69,-75.31Z" fill="url(#gR1)" stroke="#333" stroke-width="0.5" stroke-opacity="0.8" stroke-linejoin="round"/>
<path d="M0.69,-75.31 L-7.75,-77.54 L-0.69,-79.35 L7.75,-77.12Z" fill="#b3c77f" stroke="#333" stroke-width="0.5" stroke-opacity="0.8" stroke-linejoin="round"/>
</g>
<g transform="translate(469.46,781.19)">
<path d="M0.69,2.02 L-7.75,-0.21 L-7.75,-80.88 L0.69,-78.65Z" fill="url(#gL1)" stroke="#333" stroke-width="0.5" stroke-opacity="0.8" stroke-linejoin="round"/>
<path d="M0.69,2.02 L7.75,0.21 L7.75,-80.47 L0.69,-78.65Z" fill="url(#gR1)" stroke="#333" stroke-width="0.5" stroke-opacity="0.8" stroke-linejoin="round"/>
<path d="M0.69,-78.65 L-7.75,-80.88 L-0.69,-82.70 L7.75,-80.47Z" fill="#b9c57d" stroke="#333" stroke-width="0.5" stroke-opacity="0.8" stroke-linejoin="round"/>
</g>
<g transform="translate(438.44,780.36)">
<path d="M0.69,2.02 L-7.75,-0.21 L-7.75,-83.96 L0.69,-81.73Z" fill="url(#gL1)" stroke="#333" stroke-width="0.5" stroke-opacity="0.8" stroke-linejoin="round"/>
<path d="M0.69,2.02 L7.75,0.21 L7.75,-83.55 L0.69,-81.73Z" fill="url(#gR1)" stroke="#333" stroke-width="0.5" stroke-opacity="0.8" stroke-linejoin="round"/>
<path d="M0.69,-81.73 L-7.75,-83.96 L-0.69,-85.78 L7.75,-83.55Z" fill="#bfc47b" stroke="#333" stroke-width="0.5" stroke-opacity="0.8" stroke-linejoin="round"/>
</g>
<g transform="translate(641.46,789.80)">
<path d="M0.69,2.02 L-7.75,-0.21 L-7.75,-51.56 L0.69,-49.33Z" fill="url(#gL1)" stroke="#333" stroke-width="0.5" stroke-opacity="0.8" stroke-linejoin="round"/>
<path d="M0.69,2.02 L7.75,0.21 L7.75,-51.14 L0.69,-49.33Z" fill="url(#gR1)" stroke="#333" stroke-width="0.5" stroke-opacity="0.8" stroke-linejoin="round"/>
<path d="M0.69,-49.33 L-7.75,-51.56 L-0.69,-53.37 L7.75,-51.14Z" fill="#7ccaa5" stroke="#333" stroke-width="0.5" stroke-opacity="0.8" stroke-linejoin="round"/>
</g>
<g transform="translate(610.44,788.97)">
<path d="M0.69,2.02 L-7.75,-0.21 L-7.75,-60.47 L0.69,-58.24Z" fill="url(#gL1)" stroke="#333" stroke-width="0.5" stroke-opacity="0.8" stroke-linejoin="round"/>
<path d="M0.69,2.02 L7.75,0.21 L7.75,-60.05 L0.69,-58.24Z" fill="url(#gR1)" stroke="#333" stroke-width="0.5" stroke-opacity="0.8" stroke-linejoin="round"/>
<path d="M0.69,-58.24 L-7.75,-60.47 L-0.69,-62.28 L7.75,-60.05Z" fill="#8ec996" stroke="#333" stroke-width="0.5" stroke-opacity="0.8" stroke-linejoin="round"/>
</g>
<g transform="translate(579.42,788.14)">
<path d="M0.69,2.02 L-7.75,-0.21 L-7.75,-65.38 L0.69,-63.15Z" fill="url(#gL1)" stroke="#333" stroke-width="0.5" stroke-opacity="0.8" stroke-linejoin="round"/>
<path d="M0.69,2.02 L7.75,0.21 L7.75,-64.97 L0.69,-63.15Z" fill="url(#gR1)" stroke="#333" stroke-width="0.5" stroke-opacity="0.8" stroke-linejoin="round"/>
<path d="M0.69,-63.15 L-7.75,-65.38 L-0.69,-67.20 L7.75,-64.97Z" fill="#98c98e" stroke="#333" stroke-width="0.5" stroke-opacity="0.8" stroke-linejoin="round"/>
</g>
<g transform="translate(548.40,787.31)">
<path d="M0.69,2.02 L-7.75,-0.21 L-7.75,-69.37 L0.69,-67.14Z" fill="url(#gL1)" stroke="#333" stroke-width="0.5" stroke-opacity="0.8" stroke-linejoin="round"/>
<path d="M0.69,2.02 L7.75,0.21 L7.75,-68.95 L0.69,-67.14Z" fill="url(#gR1)" stroke="#333" stroke-width="0.5" stroke-opacity="0.8" stroke-linejoin="round"/>
<path d="M0.69,-67.14 L-7.75,-69.37 L-0.69,-71.18 L7.75,-68.95Z" fill="#a1c889" stroke="#333" stroke-width="0.5" stroke-opacity="0.8" stroke-linejoin="round"/>
</g>
<g transform="translate(517.38,786.48)">
<path d="M0.69,2.02 L-7.75,-0.21 L-7.75,-73.59 L0.69,-71.36Z" fill="url(#gL1)" stroke="#333" stroke-width="0.5" stroke-opacity="0.8" stroke-linejoin="round"/>
<path d="M0.69,2.02 L7.75,0.21 L7.75,-73.18 L0.69,-71.36Z" fill="url(#gR1)" stroke="#333" stroke-width="0.5" stroke-opacity="0.8" stroke-linejoin="round"/>
<path d="M0.69,-71.36 L-7.75,-73.59 L-0.69,-75.41 L7.75,-73.18Z" fill="#aac883" stroke="#333" stroke-width="0.5" stroke-opacity="0.8" stroke-linejoin="round"/>
</g>
<g transform="translate(486.36,785.65)">
<path d="M0.69,2.02 L-7.75,-0.21 L-7.75,-76.91 L0.69,-74.68Z" fill="url(#gL1)" stroke="#333" stroke-width="0.5" stroke-opacity="0.8" stroke-linejoin="round"/>
<path d="M0.69,2.02 L7.75,0.21 L7.75,-76.50 L0.69,-74.68Z" fill="url(#gR1)" stroke="#333" stroke-width="0.5" stroke-opacity="0.8" stroke-linejoin="round"/>
<path d="M0.69,-74.68 L-7.75,-76.91 L-0.69,-78.73 L7.75,-76.50Z" fill="#b2c77f" stroke="#333" stroke-width="0.5" stroke-opacity="0.8" stroke-linejoin="round"/>
</g>
<g transform="translate(455.34,784.82)">
<path d="M0.69,2.02 L-7.75,-0.21 L-7.75,-80.30 L0.69,-78.07Z" fill="url(#gL1)" stroke="#333" stroke-width="0.5" stroke-opacity="0.8" stroke-linejoin="round"/>
<path d="M0.69,2.02 L7.75,0.21 L7.75,-79.88 L0.69,-78.07Z" fill="url(#gR1)" stroke="#333" stroke-width="0.5" stroke-opacity="0.8" stroke-linejoin="round"/>
<path d="M0.69,-78.07 L-7.75,-80.30 L-0.69,-82.11 L7.75,-79.88Z" fill="#b8c67d" stroke="#333" stroke-width="0.5" stroke-opacity="0.8" stroke-linejoin="round"/>
</g>
<g transform="translate(424.32,783.99)">
<path d="M0.69,2.02 L-7.75,-0.21 L-7.75,-83.37 L0.69,-81.14Z" fill="url(#gL1)" stroke="#333" stroke-width="0.5" stroke-opacity="0.8" stroke-linejoin="round"/>
<path d="M0.69,2.02 L7.75,0.21 L7.75,-82.95 L0.69,-81.14Z" fill="url(#gR1)" stroke="#333" stroke-width="0.5" stroke-opacity="0.8" stroke-linejoin="round"/>
<path d="M0.69,-81.14 L-7.75,-83.37 L-0.69,-85.18 L7.75,-82.95Z" fill="#bec47c" stroke="#333" stroke-width="0.5" stroke-opacity="0.8" stroke-linejoin="round"/>
</g>
<g transform="translate(627.34,793.43)">
<path d="M0.69,2.02 L-7.75,-0.21 L-7.75,-49.47 L0.69,-47.24Z" fill="url(#gL1)" stroke="#333" stroke-width="0.5" stroke-opacity="0.8" stroke-linejoin="round"/>
<path d="M0.69,2.02 L7.75,0.21 L7.75,-49.05 L0.69,-47.24Z" fill="url(#gR1)" stroke="#333" stroke-width="0.5" stroke-opacity="0.8" stroke-linejoin="round"/>
<path d="M0.69,-47.24 L-7.75,-49.47 L-0.69,-51.28 L7.75,-49.05Z" fill="#7acaa8" stroke="#333" stroke-width="0.5" stroke-opacity="0.8" stroke-linejoin="round"/>
</g>
<g transform="translate(596.32,792.60)">
<path d="M0.69,2.02 L-7.75,-0.21 L-7.75,-58.49 L0.69,-56.26Z" fill="url(#gL1)" stroke="#333" stroke-width="0.5" stroke-opacity="0.8" stroke-linejoin="round"/>
<path d="M0.69,2.02 L7.75,0.21 L7.75,-58.08 L0.69,-56.26Z" fill="url(#gR1)" stroke="#333" stroke-width="0.5" stroke-opacity="0.8" stroke-linejoin="round"/>
<path d="M0.69,-56.26 L-7.75,-58.49 L-0.69,-60.31 L7.75,-58.08Z" fill="#8ac999" stroke="#333" stroke-width="0.5" stroke-opacity="0.8" stroke-linejoin="round"/>
</g>
<g transform="translate(565.30,791.77)">
<path d="M0.69,2.02 L-7.75,-0.21 L-7.75,-63.89 L0.69,-61.66Z" fill="url(#gL1)" stroke="#333" stroke-width="0.5" stroke-opacity="0.8" stroke-linejoin="round"/>
<path d="M0.69,2.02 L7.75,0.21 L7.75,-63.47 L0.69,-61.66Z" fill="url(#gR1)" stroke="#333" stroke-width="0.5" stroke-opacity="0.8" stroke-linejoin="round"/>
<path d="M0.69,-61.66 L-7.75,-63.89 L-0.69,-65.70 L7.75,-63.47Z" fill="#95c990" stroke="#333" stroke-width="0.5" stroke-opacity="0.8" stroke-linejoin="round"/>
</g>
<g transform="translate(534.28,790.94)">
<path d="M0.69,2.02 L-7.75,-0.21 L-7.75,-68.34 L0.69,-66.11Z" fill="url(#gL1)" stroke="#333" stroke-width="0.5" stroke-opacity="0.8" stroke-linejoin="round"/>
<path d="M0.69,2.02 L7.75,0.21 L7.75,-67.93 L0.69,-66.11Z" fill="url(#gR1)" stroke="#333" stroke-width="0.5" stroke-opacity="0.8" stroke-linejoin="round"/>
<path d="M0.69,-66.11 L-7.75,-68.34 L-0.69,-70.16 L7.75,-67.93Z" fill="#9fc88a" stroke="#333" stroke-width="0.5" stroke-opacity="0.8" stroke-linejoin="round"/>
</g>
<g transform="translate(503.26,790.11)">
<path d="M0.69,2.02 L-7.75,-0.21 L-7.75,-72.86 L0.69,-70.63Z" fill="url(#gL1)" stroke="#333" stroke-width="0.5" stroke-opacity="0.8" stroke-linejoin="round"/>
<path d="M0.69,2.02 L7.75,0.21 L7.75,-72.44 L0.69,-70.63Z" fill="url(#gR1)" stroke="#333" stroke-width="0.5" stroke-opacity="0.8" stroke-linejoin="round"/>
<path d="M0.69,-70.63 L-7.75,-72.86 L-0.69,-74.67 L7.75,-72.44Z" fill="#a9c884" stroke="#333" stroke-width="0.5" stroke-opacity="0.8" stroke-linejoin="round"/>
</g>
<g transform="translate(472.24,789.28)">
<path d="M0.69,2.02 L-7.75,-0.21 L-7.75,-76.29 L0.69,-74.06Z" fill="url(#gL1)" stroke="#333" stroke-width="0.5" stroke-opacity="0.8" stroke-linejoin="round"/>
<path d="M0.69,2.02 L7.75,0.21 L7.75,-75.88 L0.69,-74.06Z" fill="url(#gR1)" stroke="#333" stroke-width="0.5" stroke-opacity="0.8" stroke-linejoin="round"/>
<path d="M0.69,-74.06 L-7.75,-76.29 L-0.69,-78.11 L7.75,-75.88Z" fill="#b0c780" stroke="#333" stroke-width="0.5" stroke-opacity="0.8" stroke-linejoin="round"/>
</g>
<g transform="translate(441.22,788.45)">
<path d="M0.69,2.02 L-7.75,-0.21 L-7.75,-79.71 L0.69,-77.48Z" fill="url(#gL1)" stroke="#333" stroke-width="0.5" stroke-opacity="0.8" stroke-linejoin="round"/>
<path d="M0.69,2.02 L7.75,0.21 L7.75,-79.30 L0.69,-77.48Z" fill="url(#gR1)" stroke="#333" stroke-width="0.5" stroke-opacity="0.8" stroke-linejoin="round"/>
<path d="M0.69,-77.48 L-7.75,-79.71 L-0.69,-81.53 L7.75,-79.30Z" fill="#b7c67e" stroke="#333" stroke-width="0.5" stroke-opacity="0.8" stroke-linejoin="round"/>
</g>
<g transform="translate(613.22,797.06)">
<path d="M0.69,2.02 L-7.75,-0.21 L-7.75,-47.37 L0.69,-45.14Z" fill="url(#gL1)" stroke="#333" stroke-width="0.5" stroke-opacity="0.8" stroke-linejoin="round"/>
<path d="M0.69,2.02 L7.75,0.21 L7.75,-46.96 L0.69,-45.14Z" fill="url(#gR1)" stroke="#333" stroke-width="0.5" stroke-opacity="0.8" stroke-linejoin="round"/>
<path d="M0.69,-45.14 L-7.75,-47.37 L-0.69,-49.19 L7.75,-46.96Z" fill="#77c9ab" stroke="#333" stroke-width="0.5" stroke-opacity="0.8" stroke-linejoin="round"/>
</g>
<g transform="translate(582.20,796.23)">
<path d="M0.69,2.02 L-7.75,-0.21 L-7.75,-56.52 L0.69,-54.29Z" fill="url(#gL1)" stroke="#333" stroke-width="0.5" stroke-opacity="0.8" stroke-linejoin="round"/>
<path d="M0.69,2.02 L7.75,0.21 L7.75,-56.10 L0.69,-54.29Z" fill="url(#gR1)" stroke="#333" stroke-width="0.5" stroke-opacity="0.8" stroke-linejoin="round"/>
<path d="M0.69,-54.29 L-7.75,-56.52 L-0.69,-58.33 L7.75,-56.10Z" fill="#86ca9c" stroke="#333" stroke-width="0.5" stroke-opacity="0.8" stroke-linejoin="round"/>
</g>
<g transform="translate(551.18,795.40)">
<path d="M0.69,2.02 L-7.75,-0.21 L-7.75,-62.39 L0.69,-60.16Z" fill="url(#gL1)" stroke="#333" stroke-width="0.5" stroke-opacity="0.8" stroke-linejoin="round"/>
<path d="M0.69,2.02 L7.75,0.21 L7.75,-61.97 L0.69,-60.16Z" fill="url(#gR1)" stroke="#333" stroke-width="0.5" stroke-opacity="0.8" stroke-linejoin="round"/>
<path d="M0.69,-60.16 L-7.75,-62.39 L-0.69,-64.20 L7.75,-61.97Z" fill="#92c992" stroke="#333" stroke-width="0.5" stroke-opacity="0.8" stroke-linejoin="round"/>
</g>
<g transform="translate(520.16,794.57)">
<path d="M0.69,2.02 L-7.75,-0.21 L-7.75,-67.32 L0.69,-65.09Z" fill="url(#gL1)" stroke="#333" stroke-width="0.5" stroke-opacity="0.8" stroke-linejoin="round"/>
<path d="M0.69,2.02 L7.75,0.21 L7.75,-66.90 L0.69,-65.09Z" fill="url(#gR1)" stroke="#333" stroke-width="0.5" stroke-opacity="0.8" stroke-linejoin="round"/>
<path d="M0.69,-65.09 L-7.75,-67.32 L-0.69,-69.13 L7.75,-66.90Z" fill="#9dc98b" stroke="#333" stroke-width="0.5" stroke-opacity="0.8" stroke-linejoin="round"/>
</g>
<g transform="translate(489.14,793.74)">
<path d="M0.69,2.02 L-7.75,-0.21 L-7.75,-72.12 L0.69,-69.89Z" fill="url(#gL1)" stroke="#333" stroke-width="0.5" stroke-opacity="0.8" stroke-linejoin="round"/>
<path d="M0.69,2.02 L7.75,0.21 L7.75,-71.71 L0.69,-69.89Z" fill="url(#gR1)" stroke="#333" stroke-width="0.5" stroke-opacity="0.8" stroke-linejoin="round"/>
<path d="M0.69,-69.89 L-7.75,-72.12 L-0.69,-73.94 L7.75,-71.71Z" fill="#a7c885" stroke="#333" stroke-width="0.5" stroke-opacity="0.8" stroke-linejoin="round"/>
</g>
<g transform="translate(458.12,792.91)">
<path d="M0.69,2.02 L-7.75,-0.21 L-7.75,-75.67 L0.69,-73.44Z" fill="url(#gL1)" stroke="#333" stroke-width="0.5" stroke-opacity="0.8" stroke-linejoin="round"/>
<path d="M0.69,2.02 L7.75,0.21 L7.75,-75.25 L0.69,-73.44Z" fill="url(#gR1)" stroke="#333" stroke-width="0.5" stroke-opacity="0.8" stroke-linejoin="round"/>
<path d="M0.69,-73.44 L-7.75,-75.67 L-0.69,-77.48 L7.75,-75.25Z" fill="#afc781" stroke="#333" stroke-width="0.5" stroke-opacity="0.8" stroke-linejoin="round"/>
</g>
<g transform="translate(599.10,800.69)">
<path d="M0.69,2.02 L-7.75,-0.21 L-7.75,-45.28 L0.69,-43.05Z" fill="url(#gL1)" stroke="#333" stroke-width="0.5" stroke-opacity="0.8" stroke-linejoin="round"/>
<path d="M0.69,2.02 L7.75,0.21 L7.75,-44.87 L0.69,-43.05Z" fill="url(#gR1)" stroke="#333" stroke-width="0.5" stroke-opacity="0.8" stroke-linejoin="round"/>
<path d="M0.69,-43.05 L-7.75,-45.28 L-0.69,-47.10 L7.75,-44.87Z" fill="#75c9ae" stroke="#333" stroke-width="0.5" stroke-opacity="0.8" stroke-linejoin="round"/>
</g>
<g transform="translate(568.08,799.86)">
<path d="M0.69,2.02 L-7.75,-0.21 L-7.75,-54.55 L0.69,-52.32Z" fill="url(#gL1)" stroke="#333" stroke-width="0.5" stroke-opacity="0.8" stroke-linejoin="round"/>
<path d="M0.69,2.02 L7.75,0.21 L7.75,-54.13 L0.69,-52.32Z" fill="url(#gR1)" stroke="#333" stroke-width="0.5" stroke-opacity="0.8" stroke-linejoin="round"/>
<path d="M0.69,-52.32 L-7.75,-54.55 L-0.69,-56.36 L7.75,-54.13Z" fill="#82caa0" stroke="#333" stroke-width="0.5" stroke-opacity="0.8" stroke-linejoin="round"/>
</g>
<g transform="translate(537.06,799.03)">
<path d="M0.69,2.02 L-7.75,-0.21 L-7.75,-60.89 L0.69,-58.66Z" fill="url(#gL1)" stroke="#333" stroke-width="0.5" stroke-opacity="0.8" stroke-linejoin="round"/>
<path d="M0.69,2.02 L7.75,0.21 L7.75,-60.47 L0.69,-58.66Z" fill="url(#gR1)" stroke="#333" stroke-width="0.5" stroke-opacity="0.8" stroke-linejoin="round"/>
<path d="M0.69,-58.66 L-7.75,-60.89 L-0.69,-62.70 L7.75,-60.47Z" fill="#8fc995" stroke="#333" stroke-width="0.5" stroke-opacity="0.8" stroke-linejoin="round"/>
</g>
<g transform="translate(506.04,798.20)">
<path d="M0.69,2.02 L-7.75,-0.21 L-7.75,-66.29 L0.69,-64.06Z" fill="url(#gL1)" stroke="#333" stroke-width="0.5" stroke-opacity="0.8" stroke-linejoin="round"/>
<path d="M0.69,2.02 L7.75,0.21 L7.75,-65.88 L0.69,-64.06Z" fill="url(#gR1)" stroke="#333" stroke-width="0.5" stroke-opacity="0.8" stroke-linejoin="round"/>
<path d="M0.69,-64.06 L-7.75,-66.29 L-0.69,-68.11 L7.75,-65.88Z" fill="#9ac98d" stroke="#333" stroke-width="0.5" stroke-opacity="0.8" stroke-linejoin="round"/>
</g>
<g transform="translate(475.02,797.37)">
<path d="M0.69,2.02 L-7.75,-0.21 L-7.75,-71.38 L0.69,-69.15Z" fill="url(#gL1)" stroke="#333" stroke-width="0.5" stroke-opacity="0.8" stroke-linejoin="round"/>
<path d="M0.69,2.02 L7.75,0.21 L7.75,-70.97 L0.69,-69.15Z" fill="url(#gR1)" stroke="#333" stroke-width="0.5" stroke-opacity="0.8" stroke-linejoin="round"/>
<path d="M0.69,-69.15 L-7.75,-71.38 L-0.69,-73.20 L7.75,-70.97Z" fill="#a5c886" stroke="#333" stroke-width="0.5" stroke-opacity="0.8" stroke-linejoin="round"/>
</g>
<g transform="translate(584.98,804.32)">
<path d="M0.69,2.02 L-7.75,-0.21 L-7.75,-43.19 L0.69,-40.96Z" fill="url(#gL1)" stroke="#333" stroke-width="0.5" stroke-opacity="0.8" stroke-linejoin="round"/>
<path d="M0.69,2.02 L7.75,0.21 L7.75,-42.78 L0.69,-40.96Z" fill="url(#gR1)" stroke="#333" stroke-width="0.5" stroke-opacity="0.8" stroke-linejoin="round"/>
<path d="M0.69,-40.96 L-7.75,-43.19 L-0.69,-45.01 L7.75,-42.78Z" fill="#73c8b2" stroke="#333" stroke-width="0.5" stroke-opacity="0.8" stroke-linejoin="round"/>
</g>
<g transform="translate(553.96,803.49)">
<path d="M0.69,2.02 L-7.75,-0.21 L-7.75,-52.57 L0.69,-50.34Z" fill="url(#gL1)" stroke="#333" stroke-width="0.5" stroke-opacity="0.8" stroke-linejoin="round"/>
<path d="M0.69,2.02 L7.75,0.21 L7.75,-52.16 L0.69,-50.34Z" fill="url(#gR1)" stroke="#333" stroke-width="0.5" stroke-opacity="0.8" stroke-linejoin="round"/>
<path d="M0.69,-50.34 L-7.75,-52.57 L-0.69,-54.39 L7.75,-52.16Z" fill="#7ecaa3" stroke="#333" stroke-width="0.5" stroke-opacity="0.8" stroke-linejoin="round"/>
</g>
<g transform="translate(522.94,802.66)">
<path d="M0.69,2.02 L-7.75,-0.21 L-7.75,-59.39 L0.69,-57.16Z" fill="url(#gL1)" stroke="#333" stroke-width="0.5" stroke-opacity="0.8" stroke-linejoin="round"/>
<path d="M0.69,2.02 L7.75,0.21 L7.75,-58.98 L0.69,-57.16Z" fill="url(#gR1)" stroke="#333" stroke-width="0.5" stroke-opacity="0.8" stroke-linejoin="round"/>
<path d="M0.69,-57.16 L-7.75,-59.39 L-0.69,-61.21 L7.75,-58.98Z" fill="#8cc997" stroke="#333" stroke-width="0.5" stroke-opacity="0.8" stroke-linejoin="round"/>
</g>
<g transform="translate(491.92,801.83)">
<path d="M0.69,2.02 L-7.75,-0.21 L-7.75,-65.26 L0.69,-63.03Z" fill="url(#gL1)" stroke="#333" stroke-width="0.5" stroke-opacity="0.8" stroke-linejoin="round"/>
<path d="M0.69,2.02 L7.75,0.21 L7.75,-64.85 L0.69,-63.03Z" fill="url(#gR1)" stroke="#333" stroke-width="0.5" stroke-opacity="0.8" stroke-linejoin="round"/>
<path d="M0.69,-63.03 L-7.75,-65.26 L-0.69,-67.08 L7.75,-64.85Z" fill="#98c98e" stroke="#333" stroke-width="0.5" stroke-opacity="0.8" stroke-linejoin="round"/>
</g>
<g transform="translate(570.86,807.95)">
<path d="M0.69,2.02 L-7.75,-0.21 L-7.75,-41.10 L0.69,-38.87Z" fill="url(#gL1)" stroke="#333" stroke-width="0.5" stroke-opacity="0.8" stroke-linejoin="round"/>
<path d="M0.69,2.02 L7.75,0.21 L7.75,-40.69 L0.69,-38.87Z" fill="url(#gR1)" stroke="#333" stroke-width="0.5" stroke-opacity="0.8" stroke-linejoin="round"/>
<path d="M0.69,-38.87 L-7.75,-41.10 L-0.69,-42.92 L7.75,-40.69Z" fill="#70c8b5" stroke="#333" stroke-width="0.5" stroke-opacity="0.8" stroke-linejoin="round"/>
</g>
<g transform="translate(539.84,807.12)">
<path d="M0.69,2.02 L-7.75,-0.21 L-7.75,-50.60 L0.69,-48.37Z" fill="url(#gL1)" stroke="#333" stroke-width="0.5" stroke-opacity="0.8" stroke-linejoin="round"/>
<path d="M0.69,2.02 L7.75,0.21 L7.75,-50.18 L0.69,-48.37Z" fill="url(#gR1)" stroke="#333" stroke-width="0.5" stroke-opacity="0.8" stroke-linejoin="round"/>
<path d="M0.69,-48.37 L-7.75,-50.60 L-0.69,-52.41 L7.75,-50.18Z" fill="#7bcaa6" stroke="#333" stroke-width="0.5" stroke-opacity="0.8" stroke-linejoin="round"/>
</g>
<g transform="translate(508.82,806.29)">
<path d="M0.69,2.02 L-7.75,-0.21 L-7.75,-57.89 L0.69,-55.66Z" fill="url(#gL1)" stroke="#333" stroke-width="0.5" stroke-opacity="0.8" stroke-linejoin="round"/>
<path d="M0.69,2.02 L7.75,0.21 L7.75,-57.48 L0.69,-55.66Z" fill="url(#gR1)" stroke="#333" stroke-width="0.5" stroke-opacity="0.8" stroke-linejoin="round"/>
<path d="M0.69,-55.66 L-7.75,-57.89 L-0.69,-59.71 L7.75,-57.48Z" fill="#89ca9a" stroke="#333" stroke-width="0.5" stroke-opacity="0.8" stroke-linejoin="round"/>
</g>
<g transform="translate(556.74,811.58)">
<path d="M0.69,2.02 L-7.75,-0.21 L-7.75,-39.01 L0.69,-36.78Z" fill="url(#gL1)" stroke="#333" stroke-width="0.5" stroke-opacity="0.8" stroke-linejoin="round"/>
<path d="M0.69,2.02 L7.75,0.21 L7.75,-38.60 L0.69,-36.78Z" fill="url(#gR1)" stroke="#333" stroke-width="0.5" stroke-opacity="0.8" stroke-linejoin="round"/>
<path d="M0.69,-36.78 L-7.75,-39.01 L-0.69,-40.83 L7.75,-38.60Z" fill="#6ec7b8" stroke="#333" stroke-width="0.5" stroke-opacity="0.8" stroke-linejoin="round"/>
</g>
<g transform="translate(525.72,810.75)">
<path d="M0.69,2.02 L-7.75,-0.21 L-7.75,-48.63 L0.69,-46.40Z" fill="url(#gL1)" stroke="#333" stroke-width="0.5" stroke-opacity="0.8" stroke-linejoin="round"/>
<path d="M0.69,2.02 L7.75,0.21 L7.75,-48.21 L0.69,-46.40Z" fill="url(#gR1)" stroke="#333" stroke-width="0.5" stroke-opacity="0.8" stroke-linejoin="round"/>
<path d="M0.69,-46.40 L-7.75,-48.63 L-0.69,-50.44 L7.75,-48.21Z" fill="#79c9a9" stroke="#333" stroke-width="0.5" stroke-opacity="0.8" stroke-linejoin="round"/>
</g>
<g transform="translate(542.62,815.21)">
<path d="M0.69,2.02 L-7.75,-0.21 L-7.75,-36.92 L0.69,-34.69Z" fill="url(#gL1)" stroke="#333" stroke-width="0.5" stroke-opacity="0.8" stroke-linejoin="round"/>
<path d="M0.69,2.02 L7.75,0.21 L7.75,-36.51 L0.69,-34.69Z" fill="url(#gR1)" stroke="#333" stroke-width="0.5" stroke-opacity="0.8" stroke-linejoin="round"/>
<path d="M0.69,-34.69 L-7.75,-36.92 L-0.69,-38.74 L7.75,-36.51Z" fill="#6bc7bb" stroke="#333" stroke-width="0.5" stroke-opacity="0.8" stroke-linejoin="round"/>
</g>
<line x1="44.30" y1="783.16" x2="44.30" y2="654.96" stroke="#262626" stroke-width="0.9"/>
<path d="M44.30,783.16 L196.40,823.30 L323.30,789.73" fill="none" stroke="#262626" stroke-width="0.9"/>
<line x1="44.30" y1="783.16" x2="41.70" y2="783.16" stroke="#262626" stroke-width="0.8"/>
<text x="38.00" y="786.06" font-size="10" text-anchor="end" font-weight="normal" fill="#262626" color="#262626" >1</text>
<line x1="44.30" y1="730.42" x2="41.70" y2="730.42" stroke="#262626" stroke-width="0.8"/>
<text x="38.00" y="733.32" font-size="10" text-anchor="end" font-weight="normal" fill="#262626" color="#262626" >25</text>
<line x1="44.30" y1="692.69" x2="41.70" y2="692.69" stroke="#262626" stroke-width="0.8"/>
<text x="38.00" y="695.59" font-size="10" text-anchor="end" font-weight="normal" fill="#262626" color="#262626" >250</text>
<line x1="44.30" y1="654.96" x2="41.70" y2="654.96" stroke="#262626" stroke-width="0.8"/>
<text x="38.00" y="657.86" font-size="10" text-anchor="end" font-weight="normal" fill="#262626" color="#262626" >2500</text>
<line x1="196.40" y1="823.30" x2="194.43" y2="823.82" stroke="#262626" stroke-width="0.8"/>
<text transform="translate(194.30,827.10) rotate(-75)" font-size="10" text-anchor="end" fill="#262626" color="#262626">0</text>
<line x1="179.50" y1="818.84" x2="177.53" y2="819.36" stroke="#262626" stroke-width="0.8"/>
<text transform="translate(177.40,822.64) rotate(-75)" font-size="10" text-anchor="end" fill="#262626" color="#262626">64</text>
<line x1="162.60" y1="814.38" x2="160.63" y2="814.90" stroke="#262626" stroke-width="0.8"/>
<text transform="translate(160.50,818.18) rotate(-75)" font-size="10" text-anchor="end" fill="#262626" color="#262626">128</text>
<line x1="145.70" y1="809.92" x2="143.73" y2="810.44" stroke="#262626" stroke-width="0.8"/>
<text transform="translate(143.60,813.72) rotate(-75)" font-size="10" text-anchor="end" fill="#262626" color="#262626">192</text>
<line x1="128.80" y1="805.46" x2="126.83" y2="805.98" stroke="#262626" stroke-width="0.8"/>
<text transform="translate(126.70,809.26) rotate(-75)" font-size="10" text-anchor="end" fill="#262626" color="#262626">256</text>
<line x1="111.90" y1="801.00" x2="109.93" y2="801.52" stroke="#262626" stroke-width="0.8"/>
<text transform="translate(109.80,804.80) rotate(-75)" font-size="10" text-anchor="end" fill="#262626" color="#262626">320</text>
<line x1="95.00" y1="796.54" x2="93.03" y2="797.06" stroke="#262626" stroke-width="0.8"/>
<text transform="translate(92.90,800.34) rotate(-75)" font-size="10" text-anchor="end" fill="#262626" color="#262626">384</text>
<line x1="78.10" y1="792.08" x2="76.13" y2="792.60" stroke="#262626" stroke-width="0.8"/>
<text transform="translate(76.00,795.88) rotate(-75)" font-size="10" text-anchor="end" fill="#262626" color="#262626">448</text>
<line x1="61.20" y1="787.62" x2="59.23" y2="788.14" stroke="#262626" stroke-width="0.8"/>
<text transform="translate(59.10,791.42) rotate(-75)" font-size="10" text-anchor="end" fill="#262626" color="#262626">512</text>
<line x1="196.40" y1="823.30" x2="198.77" y2="823.92" stroke="#262626" stroke-width="0.8"/>
<text x="202.00" y="834.90" font-size="10" text-anchor="start" font-weight="normal" fill="#262626" color="#262626" >0</text>
<line x1="224.60" y1="815.84" x2="226.97" y2="816.46" stroke="#262626" stroke-width="0.8"/>
<text x="230.50" y="828.30" font-size="10" text-anchor="start" font-weight="normal" fill="#262626" color="#262626" >32</text>
<line x1="252.80" y1="808.38" x2="255.17" y2="809.00" stroke="#262626" stroke-width="0.8"/>
<text x="259.00" y="820.70" font-size="10" text-anchor="start" font-weight="normal" fill="#262626" color="#262626" >64</text>
<line x1="281.00" y1="800.92" x2="283.37" y2="801.54" stroke="#262626" stroke-width="0.8"/>
<text x="286.30" y="814.10" font-size="10" text-anchor="start" font-weight="normal" fill="#262626" color="#262626" >96</text>
<line x1="309.20" y1="793.46" x2="311.57" y2="794.08" stroke="#262626" stroke-width="0.8"/>
<text x="315.90" y="807.50" font-size="10" text-anchor="start" font-weight="normal" fill="#262626" color="#262626" >128</text>
<text transform="translate(104.80,835.20) rotate(14.8)" font-size="13.4" text-anchor="middle" fill="#262626" color="#262626">#Node in a model</text>
<text transform="translate(274.90,832.50) rotate(-14.5)" font-size="13.4" text-anchor="middle" fill="#262626" color="#262626">#Model in parallel</text>
<text transform="translate(16.50,726.20) rotate(-90)" font-size="13.4" text-anchor="middle" fill="#262626" color="#262626">Arch. Time (s)</text>
<line x1="393.30" y1="783.16" x2="393.30" y2="654.96" stroke="#262626" stroke-width="0.9"/>
<path d="M393.30,783.16 L545.40,823.30 L672.48,790.63" fill="none" stroke="#262626" stroke-width="0.9"/>
<line x1="393.30" y1="783.16" x2="390.70" y2="783.16" stroke="#262626" stroke-width="0.8"/>
<text x="387.00" y="786.06" font-size="10" text-anchor="end" font-weight="normal" fill="#262626" color="#262626" >1</text>
<line x1="393.30" y1="730.42" x2="390.70" y2="730.42" stroke="#262626" stroke-width="0.8"/>
<text x="387.00" y="733.32" font-size="10" text-anchor="end" font-weight="normal" fill="#262626" color="#262626" >25</text>
<line x1="393.30" y1="692.69" x2="390.70" y2="692.69" stroke="#262626" stroke-width="0.8"/>
<text x="387.00" y="695.59" font-size="10" text-anchor="end" font-weight="normal" fill="#262626" color="#262626" >250</text>
<line x1="393.30" y1="654.96" x2="390.70" y2="654.96" stroke="#262626" stroke-width="0.8"/>
<text x="387.00" y="657.86" font-size="10" text-anchor="end" font-weight="normal" fill="#262626" color="#262626" >2500</text>
<line x1="545.40" y1="823.30" x2="543.42" y2="823.81" stroke="#262626" stroke-width="0.8"/>
<text transform="translate(543.30,827.10) rotate(-75)" font-size="10" text-anchor="end" fill="#262626" color="#262626">0</text>
<line x1="528.50" y1="818.84" x2="526.52" y2="819.35" stroke="#262626" stroke-width="0.8"/>
<text transform="translate(526.40,822.64) rotate(-75)" font-size="10" text-anchor="end" fill="#262626" color="#262626">64</text>
<line x1="511.60" y1="814.38" x2="509.62" y2="814.89" stroke="#262626" stroke-width="0.8"/>
<text transform="translate(509.50,818.18) rotate(-75)" font-size="10" text-anchor="end" fill="#262626" color="#262626">128</text>
<line x1="494.70" y1="809.92" x2="492.72" y2="810.43" stroke="#262626" stroke-width="0.8"/>
<text transform="translate(492.60,813.72) rotate(-75)" font-size="10" text-anchor="end" fill="#262626" color="#262626">192</text>
<line x1="477.80" y1="805.46" x2="475.82" y2="805.97" stroke="#262626" stroke-width="0.8"/>
<text transform="translate(475.70,809.26) rotate(-75)" font-size="10" text-anchor="end" fill="#262626" color="#262626">256</text>
<line x1="460.90" y1="801.00" x2="458.92" y2="801.51" stroke="#262626" stroke-width="0.8"/>
<text transform="translate(458.80,804.80) rotate(-75)" font-size="10" text-anchor="end" fill="#262626" color="#262626">320</text>
<line x1="444.00" y1="796.54" x2="442.02" y2="797.05" stroke="#262626" stroke-width="0.8"/>
<text transform="translate(441.90,800.34) rotate(-75)" font-size="10" text-anchor="end" fill="#262626" color="#262626">384</text>
<line x1="427.10" y1="792.08" x2="425.12" y2="792.59" stroke="#262626" stroke-width="0.8"/>
<text transform="translate(425.00,795.88) rotate(-75)" font-size="10" text-anchor="end" fill="#262626" color="#262626">448</text>
<line x1="410.20" y1="787.62" x2="408.22" y2="788.13" stroke="#262626" stroke-width="0.8"/>
<text transform="translate(408.10,791.42) rotate(-75)" font-size="10" text-anchor="end" fill="#262626" color="#262626">512</text>
<line x1="545.40" y1="823.30" x2="547.77" y2="823.92" stroke="#262626" stroke-width="0.8"/>
<text x="551.00" y="834.90" font-size="10" text-anchor="start" font-weight="normal" fill="#262626" color="#262626" >0</text>
<line x1="573.64" y1="816.04" x2="576.01" y2="816.66" stroke="#262626" stroke-width="0.8"/>
<text x="579.70" y="828.30" font-size="10" text-anchor="start" font-weight="normal" fill="#262626" color="#262626" >32</text>
<line x1="601.88" y1="808.78" x2="604.25" y2="809.40" stroke="#262626" stroke-width="0.8"/>
<text x="608.40" y="820.70" font-size="10" text-anchor="start" font-weight="normal" fill="#262626" color="#262626" >64</text>
<line x1="630.12" y1="801.52" x2="632.49" y2="802.14" stroke="#262626" stroke-width="0.8"/>
<text x="635.90" y="814.10" font-size="10" text-anchor="start" font-weight="normal" fill="#262626" color="#262626" >96</text>
<line x1="658.36" y1="794.26" x2="660.73" y2="794.88" stroke="#262626" stroke-width="0.8"/>
<text x="665.70" y="807.50" font-size="10" text-anchor="start" font-weight="normal" fill="#262626" color="#262626" >128</text>
<text transform="translate(453.80,835.20) rotate(14.8)" font-size="13.4" text-anchor="middle" fill="#262626" color="#262626">#Node in a model</text>
<text transform="translate(624.90,832.50) rotate(-14.5)" font-size="13.4" text-anchor="middle" fill="#262626" color="#262626">#Model in parallel</text>
<text transform="translate(365.50,726.20) rotate(-90)" font-size="13.4" text-anchor="middle" fill="#262626" color="#262626">Arch. Time (s)</text>
<line x1="343.6" y1="635.5" x2="343.6" y2="643" stroke="#8a8a8a" stroke-width="0.9"/>
<line x1="343.6" y1="659.8" x2="343.6" y2="667.5" stroke="#8a8a8a" stroke-width="0.9"/>
<path d="M342.1,636.6 L343.6,633.2 L345.1,636.6Z" fill="#8a8a8a"/>
<path d="M342.1,666.4 L343.6,669.8 L345.1,666.4Z" fill="#8a8a8a"/>
<text x="343.40" y="656.20" font-size="10.2" text-anchor="middle" font-weight="normal" fill="#8f8f8f" color="#8f8f8f" >~10×</text>
<text x="190.75" y="868.70" font-size="17.8" text-anchor="middle" font-weight="bold" fill="#000" color="#000" >GPU</text>
<text x="537.30" y="868.20" font-size="17.8" text-anchor="middle" font-weight="bold" fill="#000" color="#000" >Brain-inspired</text>
</svg></body></html>
